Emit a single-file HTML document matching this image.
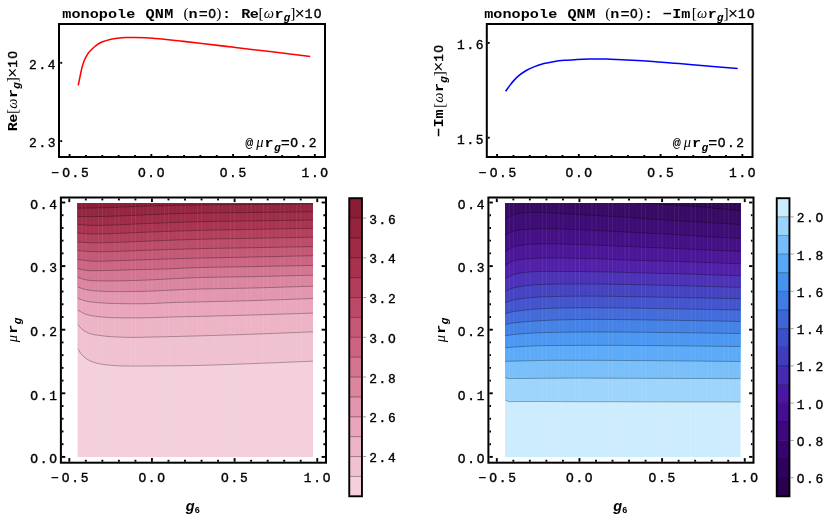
<!DOCTYPE html>
<html><head><meta charset="utf-8"><title>monopole QNM</title>
<style>
html,body{margin:0;padding:0;background:#fff;}
body{width:830px;height:523px;overflow:hidden;font-family:"Liberation Mono",monospace;}
svg{display:block;}
text{fill:#000;}
svg{will-change:transform;}
</style></head><body>
<svg width="830" height="523" viewBox="0 0 830 523">
<clipPath id="cpl"><rect x="77.60" y="202.90" width="235.40" height="254.00"/></clipPath>
<g clip-path="url(#cpl)" shape-rendering="geometricPrecision">
<rect x="76.60" y="201.90" width="237.40" height="256.00" fill="rgb(244,207,220)"/>
<path d="M75.60 200.90L75.60 348.40L77.50 348.40L80.50 353.23L83.50 356.54L86.50 358.87L89.50 360.60L92.50 361.89L95.50 362.85L98.50 363.55L101.50 364.12L104.50 364.59L107.50 364.95L110.50 365.24L113.50 365.47L116.50 365.67L119.50 365.84L122.50 365.95L125.50 366.02L128.50 366.06L131.50 366.09L134.50 366.11L137.50 366.11L140.50 366.08L143.50 366.05L146.50 366.02L149.50 365.99L152.50 365.97L155.50 365.95L158.50 365.92L161.50 365.90L164.50 365.87L167.50 365.85L170.50 365.82L173.50 365.78L176.50 365.75L179.50 365.73L182.50 365.70L185.50 365.66L188.50 365.62L191.50 365.57L194.50 365.51L197.50 365.44L200.50 365.37L203.50 365.29L206.50 365.20L209.50 365.11L212.50 365.02L215.50 364.93L218.50 364.83L221.50 364.73L224.50 364.62L227.50 364.52L230.50 364.41L233.50 364.30L236.50 364.19L239.50 364.08L242.50 363.97L245.50 363.86L248.50 363.75L251.50 363.64L254.50 363.53L257.50 363.42L260.50 363.31L263.50 363.20L266.50 363.08L269.50 362.96L272.50 362.84L275.50 362.72L278.50 362.60L281.50 362.48L284.50 362.36L287.50 362.24L290.50 362.11L293.50 361.99L296.50 361.87L299.50 361.75L302.50 361.62L305.50 361.50L308.50 361.38L311.50 361.26L313.00 361.20L315.00 361.20L315.00 200.90Z" fill="rgb(240,193,209)"/>
<path d="M75.60 200.90L75.60 324.50L77.50 324.50L80.50 327.72L83.50 330.36L86.50 332.18L89.50 333.46L92.50 334.32L95.50 334.90L98.50 335.32L101.50 335.71L104.50 336.09L107.50 336.38L110.50 336.61L113.50 336.80L116.50 336.97L119.50 337.12L122.50 337.24L125.50 337.32L128.50 337.37L131.50 337.39L134.50 337.40L137.50 337.36L140.50 337.30L143.50 337.22L146.50 337.14L149.50 337.08L152.50 337.02L155.50 336.96L158.50 336.90L161.50 336.83L164.50 336.77L167.50 336.70L170.50 336.64L173.50 336.56L176.50 336.49L179.50 336.42L182.50 336.34L185.50 336.26L188.50 336.18L191.50 336.10L194.50 336.01L197.50 335.93L200.50 335.84L203.50 335.76L206.50 335.67L209.50 335.58L212.50 335.49L215.50 335.40L218.50 335.31L221.50 335.22L224.50 335.13L227.50 335.04L230.50 334.94L233.50 334.85L236.50 334.75L239.50 334.65L242.50 334.55L245.50 334.45L248.50 334.35L251.50 334.24L254.50 334.14L257.50 334.03L260.50 333.91L263.50 333.80L266.50 333.69L269.50 333.57L272.50 333.45L275.50 333.33L278.50 333.21L281.50 333.09L284.50 332.96L287.50 332.84L290.50 332.72L293.50 332.59L296.50 332.47L299.50 332.35L302.50 332.22L305.50 332.10L308.50 331.98L311.50 331.86L313.00 331.80L315.00 331.80L315.00 200.90Z" fill="rgb(237,179,198)"/>
<path d="M75.60 200.90L75.60 310.00L77.50 310.00L80.50 311.65L83.50 313.27L86.50 314.46L89.50 315.27L92.50 315.85L95.50 316.27L98.50 316.60L101.50 316.91L104.50 317.19L107.50 317.41L110.50 317.56L113.50 317.68L116.50 317.76L119.50 317.81L122.50 317.86L125.50 317.91L128.50 317.94L131.50 317.94L134.50 317.93L137.50 317.90L140.50 317.85L143.50 317.79L146.50 317.74L149.50 317.68L152.50 317.61L155.50 317.52L158.50 317.43L161.50 317.33L164.50 317.23L167.50 317.13L170.50 317.04L173.50 316.96L176.50 316.89L179.50 316.83L182.50 316.77L185.50 316.70L188.50 316.64L191.50 316.58L194.50 316.51L197.50 316.44L200.50 316.37L203.50 316.30L206.50 316.22L209.50 316.15L212.50 316.07L215.50 316.00L218.50 315.92L221.50 315.85L224.50 315.77L227.50 315.69L230.50 315.61L233.50 315.53L236.50 315.45L239.50 315.37L242.50 315.29L245.50 315.20L248.50 315.12L251.50 315.03L254.50 314.95L257.50 314.86L260.50 314.77L263.50 314.68L266.50 314.59L269.50 314.49L272.50 314.40L275.50 314.31L278.50 314.21L281.50 314.11L284.50 314.02L287.50 313.92L290.50 313.82L293.50 313.73L296.50 313.63L299.50 313.53L302.50 313.44L305.50 313.34L308.50 313.24L311.50 313.15L313.00 313.10L315.00 313.10L315.00 200.90Z" fill="rgb(233,165,188)"/>
<path d="M75.60 200.90L75.60 298.20L77.50 298.20L80.50 299.30L83.50 300.38L86.50 301.18L89.50 301.73L92.50 302.14L95.50 302.44L98.50 302.68L101.50 302.91L104.50 303.11L107.50 303.28L110.50 303.40L113.50 303.49L116.50 303.56L119.50 303.62L122.50 303.66L125.50 303.71L128.50 303.74L131.50 303.76L134.50 303.77L137.50 303.76L140.50 303.73L143.50 303.69L146.50 303.64L149.50 303.57L152.50 303.47L155.50 303.35L158.50 303.21L161.50 303.07L164.50 302.92L167.50 302.78L170.50 302.65L173.50 302.55L176.50 302.46L179.50 302.38L182.50 302.30L185.50 302.23L188.50 302.16L191.50 302.09L194.50 302.01L197.50 301.94L200.50 301.86L203.50 301.79L206.50 301.72L209.50 301.66L212.50 301.59L215.50 301.52L218.50 301.45L221.50 301.38L224.50 301.32L227.50 301.25L230.50 301.18L233.50 301.11L236.50 301.03L239.50 300.96L242.50 300.88L245.50 300.80L248.50 300.72L251.50 300.64L254.50 300.55L257.50 300.45L260.50 300.36L263.50 300.26L266.50 300.16L269.50 300.06L272.50 299.96L275.50 299.85L278.50 299.75L281.50 299.64L284.50 299.53L287.50 299.42L290.50 299.31L293.50 299.20L296.50 299.09L299.50 298.98L302.50 298.87L305.50 298.77L308.50 298.66L311.50 298.55L313.00 298.50L315.00 298.50L315.00 200.90Z" fill="rgb(226,149,174)"/>
<path d="M75.60 200.90L75.60 286.90L77.50 286.90L80.50 287.97L83.50 289.01L86.50 289.77L89.50 290.27L92.50 290.61L95.50 290.85L98.50 291.04L101.50 291.21L104.50 291.36L107.50 291.47L110.50 291.54L113.50 291.58L116.50 291.60L119.50 291.60L122.50 291.60L125.50 291.60L128.50 291.59L131.50 291.57L134.50 291.53L137.50 291.48L140.50 291.42L143.50 291.34L146.50 291.26L149.50 291.16L152.50 291.05L155.50 290.91L158.50 290.77L161.50 290.62L164.50 290.46L167.50 290.31L170.50 290.17L173.50 290.04L176.50 289.91L179.50 289.78L182.50 289.65L185.50 289.53L188.50 289.42L191.50 289.31L194.50 289.22L197.50 289.13L200.50 289.05L203.50 288.97L206.50 288.90L209.50 288.84L212.50 288.77L215.50 288.72L218.50 288.66L221.50 288.61L224.50 288.56L227.50 288.50L230.50 288.45L233.50 288.40L236.50 288.34L239.50 288.29L242.50 288.23L245.50 288.17L248.50 288.10L251.50 288.03L254.50 287.95L257.50 287.88L260.50 287.79L263.50 287.71L266.50 287.63L269.50 287.54L272.50 287.45L275.50 287.36L278.50 287.27L281.50 287.18L284.50 287.08L287.50 286.99L290.50 286.90L293.50 286.80L296.50 286.71L299.50 286.61L302.50 286.52L305.50 286.43L308.50 286.34L311.50 286.24L313.00 286.20L315.00 286.20L315.00 200.90Z" fill="rgb(219,133,159)"/>
<path d="M75.60 200.90L75.60 277.20L77.50 277.20L80.50 278.24L83.50 279.25L86.50 279.95L89.50 280.36L92.50 280.61L95.50 280.75L98.50 280.83L101.50 280.90L104.50 280.97L107.50 280.99L110.50 280.98L113.50 280.94L116.50 280.89L119.50 280.82L122.50 280.75L125.50 280.69L128.50 280.63L131.50 280.56L134.50 280.48L137.50 280.39L140.50 280.29L143.50 280.19L146.50 280.08L149.50 279.95L152.50 279.82L155.50 279.67L158.50 279.51L161.50 279.35L164.50 279.19L167.50 279.03L170.50 278.88L173.50 278.72L176.50 278.56L179.50 278.41L182.50 278.25L185.50 278.10L188.50 277.96L191.50 277.83L194.50 277.72L197.50 277.62L200.50 277.53L203.50 277.45L206.50 277.38L209.50 277.31L212.50 277.25L215.50 277.20L218.50 277.14L221.50 277.10L224.50 277.05L227.50 277.01L230.50 276.96L233.50 276.92L236.50 276.88L239.50 276.83L242.50 276.79L245.50 276.74L248.50 276.68L251.50 276.62L254.50 276.56L257.50 276.50L260.50 276.43L263.50 276.36L266.50 276.30L269.50 276.23L272.50 276.16L275.50 276.09L278.50 276.02L281.50 275.95L284.50 275.88L287.50 275.80L290.50 275.73L293.50 275.66L296.50 275.59L299.50 275.52L302.50 275.45L305.50 275.38L308.50 275.31L311.50 275.23L313.00 275.20L315.00 275.20L315.00 200.90Z" fill="rgb(211,116,145)"/>
<path d="M75.60 200.90L75.60 268.50L77.50 268.50L80.50 269.23L83.50 269.94L86.50 270.39L89.50 270.61L92.50 270.69L95.50 270.68L98.50 270.63L101.50 270.60L104.50 270.58L107.50 270.53L110.50 270.47L113.50 270.39L116.50 270.30L119.50 270.21L122.50 270.11L125.50 270.01L128.50 269.92L131.50 269.83L134.50 269.75L137.50 269.68L140.50 269.61L143.50 269.54L146.50 269.48L149.50 269.41L152.50 269.33L155.50 269.26L158.50 269.17L161.50 269.08L164.50 268.99L167.50 268.88L170.50 268.75L173.50 268.62L176.50 268.48L179.50 268.34L182.50 268.20L185.50 268.06L188.50 267.94L191.50 267.82L194.50 267.72L197.50 267.63L200.50 267.54L203.50 267.47L206.50 267.40L209.50 267.33L212.50 267.27L215.50 267.21L218.50 267.16L221.50 267.11L224.50 267.06L227.50 267.01L230.50 266.97L233.50 266.92L236.50 266.87L239.50 266.83L242.50 266.78L245.50 266.73L248.50 266.68L251.50 266.62L254.50 266.56L257.50 266.51L260.50 266.45L263.50 266.39L266.50 266.33L269.50 266.27L272.50 266.21L275.50 266.15L278.50 266.09L281.50 266.03L284.50 265.97L287.50 265.91L290.50 265.85L293.50 265.79L296.50 265.73L299.50 265.67L302.50 265.61L305.50 265.55L308.50 265.49L311.50 265.43L313.00 265.40L315.00 265.40L315.00 200.90Z" fill="rgb(204,99,130)"/>
<path d="M75.60 200.90L75.60 259.50L77.50 259.50L80.50 259.85L83.50 260.23L86.50 260.60L89.50 260.92L92.50 261.15L95.50 261.27L98.50 261.30L101.50 261.26L104.50 261.18L107.50 261.07L110.50 260.94L113.50 260.82L116.50 260.71L119.50 260.63L122.50 260.53L125.50 260.43L128.50 260.32L131.50 260.21L134.50 260.10L137.50 259.99L140.50 259.88L143.50 259.77L146.50 259.66L149.50 259.56L152.50 259.47L155.50 259.37L158.50 259.27L161.50 259.18L164.50 259.08L167.50 258.99L170.50 258.90L173.50 258.80L176.50 258.71L179.50 258.63L182.50 258.54L185.50 258.45L188.50 258.37L191.50 258.29L194.50 258.21L197.50 258.14L200.50 258.06L203.50 258.00L206.50 257.93L209.50 257.86L212.50 257.80L215.50 257.74L218.50 257.68L221.50 257.62L224.50 257.56L227.50 257.50L230.50 257.44L233.50 257.38L236.50 257.32L239.50 257.27L242.50 257.21L245.50 257.15L248.50 257.09L251.50 257.03L254.50 256.96L257.50 256.90L260.50 256.83L263.50 256.77L266.50 256.71L269.50 256.64L272.50 256.58L275.50 256.51L278.50 256.45L281.50 256.38L284.50 256.32L287.50 256.25L290.50 256.19L293.50 256.12L296.50 256.06L299.50 255.99L302.50 255.93L305.50 255.86L308.50 255.80L311.50 255.73L313.00 255.70L315.00 255.70L315.00 200.90Z" fill="rgb(195,87,117)"/>
<path d="M75.60 200.90L75.60 250.60L77.50 250.60L80.50 250.82L83.50 251.07L86.50 251.31L89.50 251.52L92.50 251.67L95.50 251.74L98.50 251.77L101.50 251.76L104.50 251.72L107.50 251.66L110.50 251.58L113.50 251.50L116.50 251.41L119.50 251.33L122.50 251.23L125.50 251.13L128.50 251.01L131.50 250.88L134.50 250.76L137.50 250.63L140.50 250.50L143.50 250.38L146.50 250.27L149.50 250.16L152.50 250.06L155.50 249.96L158.50 249.86L161.50 249.76L164.50 249.67L167.50 249.57L170.50 249.48L173.50 249.39L176.50 249.30L179.50 249.21L182.50 249.13L185.50 249.05L188.50 248.97L191.50 248.89L194.50 248.81L197.50 248.74L200.50 248.67L203.50 248.60L206.50 248.54L209.50 248.48L212.50 248.42L215.50 248.36L218.50 248.30L221.50 248.25L224.50 248.20L227.50 248.14L230.50 248.09L233.50 248.04L236.50 247.99L239.50 247.94L242.50 247.88L245.50 247.83L248.50 247.78L251.50 247.72L254.50 247.67L257.50 247.61L260.50 247.56L263.50 247.50L266.50 247.44L269.50 247.39L272.50 247.34L275.50 247.28L278.50 247.23L281.50 247.17L284.50 247.12L287.50 247.06L290.50 247.01L293.50 246.95L296.50 246.90L299.50 246.85L302.50 246.79L305.50 246.74L308.50 246.68L311.50 246.63L313.00 246.60L315.00 246.60L315.00 200.90Z" fill="rgb(186,74,104)"/>
<path d="M75.60 200.90L75.60 242.00L77.50 242.00L80.50 242.17L83.50 242.35L86.50 242.53L89.50 242.68L92.50 242.78L95.50 242.82L98.50 242.81L101.50 242.77L104.50 242.70L107.50 242.61L110.50 242.51L113.50 242.41L116.50 242.32L119.50 242.22L122.50 242.12L125.50 242.01L128.50 241.90L131.50 241.78L134.50 241.66L137.50 241.53L140.50 241.41L143.50 241.29L146.50 241.17L149.50 241.06L152.50 240.94L155.50 240.83L158.50 240.71L161.50 240.59L164.50 240.47L167.50 240.36L170.50 240.24L173.50 240.13L176.50 240.01L179.50 239.90L182.50 239.80L185.50 239.69L188.50 239.59L191.50 239.50L194.50 239.41L197.50 239.33L200.50 239.26L203.50 239.18L206.50 239.12L209.50 239.05L212.50 238.99L215.50 238.93L218.50 238.88L221.50 238.82L224.50 238.77L227.50 238.72L230.50 238.67L233.50 238.63L236.50 238.58L239.50 238.53L242.50 238.48L245.50 238.43L248.50 238.38L251.50 238.32L254.50 238.27L257.50 238.21L260.50 238.16L263.50 238.10L266.50 238.04L269.50 237.99L272.50 237.94L275.50 237.88L278.50 237.83L281.50 237.77L284.50 237.72L287.50 237.66L290.50 237.61L293.50 237.55L296.50 237.50L299.50 237.45L302.50 237.39L305.50 237.34L308.50 237.28L311.50 237.23L313.00 237.20L315.00 237.20L315.00 200.90Z" fill="rgb(177,61,91)"/>
<path d="M75.60 200.90L75.60 233.20L77.50 233.20L80.50 233.37L83.50 233.55L86.50 233.73L89.50 233.88L92.50 233.98L95.50 234.01L98.50 234.00L101.50 233.94L104.50 233.86L107.50 233.76L110.50 233.64L113.50 233.53L116.50 233.42L119.50 233.31L122.50 233.20L125.50 233.08L128.50 232.95L131.50 232.82L134.50 232.69L137.50 232.55L140.50 232.42L143.50 232.30L146.50 232.17L149.50 232.06L152.50 231.94L155.50 231.83L158.50 231.72L161.50 231.61L164.50 231.50L167.50 231.39L170.50 231.28L173.50 231.17L176.50 231.07L179.50 230.97L182.50 230.87L185.50 230.77L188.50 230.68L191.50 230.60L194.50 230.51L197.50 230.43L200.50 230.36L203.50 230.29L206.50 230.22L209.50 230.16L212.50 230.10L215.50 230.04L218.50 229.99L221.50 229.93L224.50 229.88L227.50 229.83L230.50 229.78L233.50 229.73L236.50 229.68L239.50 229.63L242.50 229.58L245.50 229.53L248.50 229.48L251.50 229.42L254.50 229.37L257.50 229.31L260.50 229.26L263.50 229.20L266.50 229.14L269.50 229.09L272.50 229.04L275.50 228.98L278.50 228.93L281.50 228.87L284.50 228.82L287.50 228.76L290.50 228.71L293.50 228.65L296.50 228.60L299.50 228.55L302.50 228.49L305.50 228.44L308.50 228.38L311.50 228.33L313.00 228.30L315.00 228.30L315.00 200.90Z" fill="rgb(168,49,79)"/>
<path d="M75.60 200.90L75.60 224.40L77.50 224.40L80.50 224.61L83.50 224.84L86.50 225.06L89.50 225.25L92.50 225.38L95.50 225.42L98.50 225.42L101.50 225.36L104.50 225.28L107.50 225.17L110.50 225.05L113.50 224.93L116.50 224.82L119.50 224.71L122.50 224.60L125.50 224.48L128.50 224.35L131.50 224.22L134.50 224.09L137.50 223.96L140.50 223.83L143.50 223.70L146.50 223.58L149.50 223.46L152.50 223.34L155.50 223.22L158.50 223.10L161.50 222.98L164.50 222.86L167.50 222.74L170.50 222.62L173.50 222.51L176.50 222.39L179.50 222.28L182.50 222.18L185.50 222.08L188.50 221.98L191.50 221.90L194.50 221.81L197.50 221.74L200.50 221.67L203.50 221.60L206.50 221.54L209.50 221.49L212.50 221.44L215.50 221.39L218.50 221.35L221.50 221.30L224.50 221.26L227.50 221.23L230.50 221.19L233.50 221.15L236.50 221.12L239.50 221.08L242.50 221.04L245.50 221.00L248.50 220.96L251.50 220.92L254.50 220.87L257.50 220.83L260.50 220.78L263.50 220.74L266.50 220.69L269.50 220.65L272.50 220.60L275.50 220.56L278.50 220.51L281.50 220.47L284.50 220.42L287.50 220.38L290.50 220.33L293.50 220.29L296.50 220.25L299.50 220.20L302.50 220.16L305.50 220.11L308.50 220.07L311.50 220.02L313.00 220.00L315.00 220.00L315.00 200.90Z" fill="rgb(158,42,71)"/>
<path d="M75.60 200.90L75.60 216.50L77.50 216.50L80.50 216.51L83.50 216.52L86.50 216.54L89.50 216.55L92.50 216.56L95.50 216.56L98.50 216.54L101.50 216.50L104.50 216.44L107.50 216.36L110.50 216.27L113.50 216.16L116.50 216.05L119.50 215.93L122.50 215.81L125.50 215.69L128.50 215.57L131.50 215.45L134.50 215.33L137.50 215.21L140.50 215.08L143.50 214.95L146.50 214.82L149.50 214.69L152.50 214.56L155.50 214.43L158.50 214.31L161.50 214.19L164.50 214.09L167.50 213.98L170.50 213.88L173.50 213.78L176.50 213.69L179.50 213.59L182.50 213.51L185.50 213.43L188.50 213.35L191.50 213.28L194.50 213.21L197.50 213.15L200.50 213.09L203.50 213.04L206.50 213.00L209.50 212.95L212.50 212.91L215.50 212.88L218.50 212.84L221.50 212.81L224.50 212.78L227.50 212.75L230.50 212.72L233.50 212.69L236.50 212.67L239.50 212.64L242.50 212.61L245.50 212.58L248.50 212.55L251.50 212.51L254.50 212.48L257.50 212.44L260.50 212.41L263.50 212.37L266.50 212.34L269.50 212.30L272.50 212.27L275.50 212.23L278.50 212.20L281.50 212.16L284.50 212.13L287.50 212.09L290.50 212.06L293.50 212.03L296.50 211.99L299.50 211.96L302.50 211.92L305.50 211.89L308.50 211.85L311.50 211.82L313.00 211.80L315.00 211.80L315.00 200.90Z" fill="rgb(148,35,62)"/>
<path d="M75.60 200.90L75.60 208.20L77.50 208.20L80.50 208.15L83.50 208.11L86.50 208.07L89.50 208.03L92.50 207.99L95.50 207.93L98.50 207.87L101.50 207.80L104.50 207.71L107.50 207.61L110.50 207.49L113.50 207.38L116.50 207.25L119.50 207.13L122.50 207.00L125.50 206.88L128.50 206.76L131.50 206.64L134.50 206.54L137.50 206.43L140.50 206.33L143.50 206.23L146.50 206.13L149.50 206.03L152.50 205.93L155.50 205.84L158.50 205.75L161.50 205.67L164.50 205.59L167.50 205.52L170.50 205.45L173.50 205.38L176.50 205.32L179.50 205.27L182.50 205.22L185.50 205.17L188.50 205.12L191.50 205.08L194.50 205.04L197.50 205.00L200.50 204.96L203.50 204.93L206.50 204.90L209.50 204.87L212.50 204.84L215.50 204.81L218.50 204.78L221.50 204.76L224.50 204.73L227.50 204.71L230.50 204.68L233.50 204.66L236.50 204.63L239.50 204.61L242.50 204.59L245.50 204.56L248.50 204.54L251.50 204.51L254.50 204.48L257.50 204.46L260.50 204.43L263.50 204.41L266.50 204.38L269.50 204.36L272.50 204.33L275.50 204.31L278.50 204.28L281.50 204.26L284.50 204.23L287.50 204.21L290.50 204.18L293.50 204.16L296.50 204.13L299.50 204.11L302.50 204.09L305.50 204.06L308.50 204.04L311.50 204.01L313.00 204.00L315.00 204.00L315.00 200.90Z" fill="rgb(138,28,53)"/>
<rect x="77.60" y="202.90" width="235.40" height="254.00" fill="#fff" fill-opacity="0.015"/>
<line x1="69.40" y1="202.90" x2="69.40" y2="456.90" stroke="#fff" stroke-opacity="0.09" stroke-width="0.9"/>
<line x1="73.50" y1="202.90" x2="73.50" y2="456.90" stroke="#fff" stroke-opacity="0.04" stroke-width="0.9"/>
<line x1="77.60" y1="202.90" x2="77.60" y2="456.90" stroke="#fff" stroke-opacity="0.04" stroke-width="0.9"/>
<line x1="81.80" y1="202.90" x2="81.80" y2="456.90" stroke="#fff" stroke-opacity="0.09" stroke-width="0.9"/>
<line x1="85.93" y1="202.90" x2="85.93" y2="456.90" stroke="#fff" stroke-opacity="0.09" stroke-width="0.9"/>
<line x1="90.03" y1="202.90" x2="90.03" y2="456.90" stroke="#fff" stroke-opacity="0.04" stroke-width="0.9"/>
<line x1="94.13" y1="202.90" x2="94.13" y2="456.90" stroke="#fff" stroke-opacity="0.04" stroke-width="0.9"/>
<line x1="98.33" y1="202.90" x2="98.33" y2="456.90" stroke="#fff" stroke-opacity="0.09" stroke-width="0.9"/>
<line x1="102.46" y1="202.90" x2="102.46" y2="456.90" stroke="#fff" stroke-opacity="0.09" stroke-width="0.9"/>
<line x1="106.56" y1="202.90" x2="106.56" y2="456.90" stroke="#fff" stroke-opacity="0.04" stroke-width="0.9"/>
<line x1="110.66" y1="202.90" x2="110.66" y2="456.90" stroke="#fff" stroke-opacity="0.04" stroke-width="0.9"/>
<line x1="114.86" y1="202.90" x2="114.86" y2="456.90" stroke="#fff" stroke-opacity="0.09" stroke-width="0.9"/>
<line x1="118.99" y1="202.90" x2="118.99" y2="456.90" stroke="#fff" stroke-opacity="0.09" stroke-width="0.9"/>
<line x1="123.09" y1="202.90" x2="123.09" y2="456.90" stroke="#fff" stroke-opacity="0.04" stroke-width="0.9"/>
<line x1="127.19" y1="202.90" x2="127.19" y2="456.90" stroke="#fff" stroke-opacity="0.04" stroke-width="0.9"/>
<line x1="131.39" y1="202.90" x2="131.39" y2="456.90" stroke="#fff" stroke-opacity="0.09" stroke-width="0.9"/>
<line x1="135.52" y1="202.90" x2="135.52" y2="456.90" stroke="#fff" stroke-opacity="0.09" stroke-width="0.9"/>
<line x1="139.62" y1="202.90" x2="139.62" y2="456.90" stroke="#fff" stroke-opacity="0.04" stroke-width="0.9"/>
<line x1="143.72" y1="202.90" x2="143.72" y2="456.90" stroke="#fff" stroke-opacity="0.04" stroke-width="0.9"/>
<line x1="147.92" y1="202.90" x2="147.92" y2="456.90" stroke="#fff" stroke-opacity="0.09" stroke-width="0.9"/>
<line x1="152.05" y1="202.90" x2="152.05" y2="456.90" stroke="#fff" stroke-opacity="0.09" stroke-width="0.9"/>
<line x1="156.15" y1="202.90" x2="156.15" y2="456.90" stroke="#fff" stroke-opacity="0.04" stroke-width="0.9"/>
<line x1="160.25" y1="202.90" x2="160.25" y2="456.90" stroke="#fff" stroke-opacity="0.04" stroke-width="0.9"/>
<line x1="164.45" y1="202.90" x2="164.45" y2="456.90" stroke="#fff" stroke-opacity="0.09" stroke-width="0.9"/>
<line x1="168.58" y1="202.90" x2="168.58" y2="456.90" stroke="#fff" stroke-opacity="0.09" stroke-width="0.9"/>
<line x1="172.68" y1="202.90" x2="172.68" y2="456.90" stroke="#fff" stroke-opacity="0.04" stroke-width="0.9"/>
<line x1="176.78" y1="202.90" x2="176.78" y2="456.90" stroke="#fff" stroke-opacity="0.04" stroke-width="0.9"/>
<line x1="180.98" y1="202.90" x2="180.98" y2="456.90" stroke="#fff" stroke-opacity="0.09" stroke-width="0.9"/>
<line x1="185.11" y1="202.90" x2="185.11" y2="456.90" stroke="#fff" stroke-opacity="0.09" stroke-width="0.9"/>
<line x1="189.21" y1="202.90" x2="189.21" y2="456.90" stroke="#fff" stroke-opacity="0.04" stroke-width="0.9"/>
<line x1="193.31" y1="202.90" x2="193.31" y2="456.90" stroke="#fff" stroke-opacity="0.04" stroke-width="0.9"/>
<line x1="197.51" y1="202.90" x2="197.51" y2="456.90" stroke="#fff" stroke-opacity="0.09" stroke-width="0.9"/>
<line x1="201.64" y1="202.90" x2="201.64" y2="456.90" stroke="#fff" stroke-opacity="0.09" stroke-width="0.9"/>
<line x1="205.74" y1="202.90" x2="205.74" y2="456.90" stroke="#fff" stroke-opacity="0.04" stroke-width="0.9"/>
<line x1="209.84" y1="202.90" x2="209.84" y2="456.90" stroke="#fff" stroke-opacity="0.04" stroke-width="0.9"/>
<line x1="214.04" y1="202.90" x2="214.04" y2="456.90" stroke="#fff" stroke-opacity="0.09" stroke-width="0.9"/>
<line x1="218.17" y1="202.90" x2="218.17" y2="456.90" stroke="#fff" stroke-opacity="0.09" stroke-width="0.9"/>
<line x1="222.27" y1="202.90" x2="222.27" y2="456.90" stroke="#fff" stroke-opacity="0.04" stroke-width="0.9"/>
<line x1="226.37" y1="202.90" x2="226.37" y2="456.90" stroke="#fff" stroke-opacity="0.04" stroke-width="0.9"/>
<line x1="230.57" y1="202.90" x2="230.57" y2="456.90" stroke="#fff" stroke-opacity="0.09" stroke-width="0.9"/>
<line x1="234.70" y1="202.90" x2="234.70" y2="456.90" stroke="#fff" stroke-opacity="0.09" stroke-width="0.9"/>
<line x1="238.80" y1="202.90" x2="238.80" y2="456.90" stroke="#fff" stroke-opacity="0.04" stroke-width="0.9"/>
<line x1="242.90" y1="202.90" x2="242.90" y2="456.90" stroke="#fff" stroke-opacity="0.04" stroke-width="0.9"/>
<line x1="247.10" y1="202.90" x2="247.10" y2="456.90" stroke="#fff" stroke-opacity="0.09" stroke-width="0.9"/>
<line x1="251.23" y1="202.90" x2="251.23" y2="456.90" stroke="#fff" stroke-opacity="0.09" stroke-width="0.9"/>
<line x1="255.33" y1="202.90" x2="255.33" y2="456.90" stroke="#fff" stroke-opacity="0.04" stroke-width="0.9"/>
<line x1="259.43" y1="202.90" x2="259.43" y2="456.90" stroke="#fff" stroke-opacity="0.04" stroke-width="0.9"/>
<line x1="263.63" y1="202.90" x2="263.63" y2="456.90" stroke="#fff" stroke-opacity="0.09" stroke-width="0.9"/>
<line x1="267.76" y1="202.90" x2="267.76" y2="456.90" stroke="#fff" stroke-opacity="0.09" stroke-width="0.9"/>
<line x1="271.86" y1="202.90" x2="271.86" y2="456.90" stroke="#fff" stroke-opacity="0.04" stroke-width="0.9"/>
<line x1="275.96" y1="202.90" x2="275.96" y2="456.90" stroke="#fff" stroke-opacity="0.04" stroke-width="0.9"/>
<line x1="280.16" y1="202.90" x2="280.16" y2="456.90" stroke="#fff" stroke-opacity="0.09" stroke-width="0.9"/>
<line x1="284.29" y1="202.90" x2="284.29" y2="456.90" stroke="#fff" stroke-opacity="0.09" stroke-width="0.9"/>
<line x1="288.39" y1="202.90" x2="288.39" y2="456.90" stroke="#fff" stroke-opacity="0.04" stroke-width="0.9"/>
<line x1="292.49" y1="202.90" x2="292.49" y2="456.90" stroke="#fff" stroke-opacity="0.04" stroke-width="0.9"/>
<line x1="296.69" y1="202.90" x2="296.69" y2="456.90" stroke="#fff" stroke-opacity="0.09" stroke-width="0.9"/>
<line x1="300.82" y1="202.90" x2="300.82" y2="456.90" stroke="#fff" stroke-opacity="0.09" stroke-width="0.9"/>
<line x1="304.92" y1="202.90" x2="304.92" y2="456.90" stroke="#fff" stroke-opacity="0.04" stroke-width="0.9"/>
<line x1="309.02" y1="202.90" x2="309.02" y2="456.90" stroke="#fff" stroke-opacity="0.04" stroke-width="0.9"/>
<line x1="313.22" y1="202.90" x2="313.22" y2="456.90" stroke="#fff" stroke-opacity="0.09" stroke-width="0.9"/>
<line x1="317.35" y1="202.90" x2="317.35" y2="456.90" stroke="#fff" stroke-opacity="0.09" stroke-width="0.9"/>
<line x1="321.45" y1="202.90" x2="321.45" y2="456.90" stroke="#fff" stroke-opacity="0.04" stroke-width="0.9"/>
<line x1="325.55" y1="202.90" x2="325.55" y2="456.90" stroke="#fff" stroke-opacity="0.04" stroke-width="0.9"/>
<line x1="329.75" y1="202.90" x2="329.75" y2="456.90" stroke="#fff" stroke-opacity="0.09" stroke-width="0.9"/>
<path d="M77.50 348.40L80.50 353.23L83.50 356.54L86.50 358.87L89.50 360.60L92.50 361.89L95.50 362.85L98.50 363.55L101.50 364.12L104.50 364.59L107.50 364.95L110.50 365.24L113.50 365.47L116.50 365.67L119.50 365.84L122.50 365.95L125.50 366.02L128.50 366.06L131.50 366.09L134.50 366.11L137.50 366.11L140.50 366.08L143.50 366.05L146.50 366.02L149.50 365.99L152.50 365.97L155.50 365.95L158.50 365.92L161.50 365.90L164.50 365.87L167.50 365.85L170.50 365.82L173.50 365.78L176.50 365.75L179.50 365.73L182.50 365.70L185.50 365.66L188.50 365.62L191.50 365.57L194.50 365.51L197.50 365.44L200.50 365.37L203.50 365.29L206.50 365.20L209.50 365.11L212.50 365.02L215.50 364.93L218.50 364.83L221.50 364.73L224.50 364.62L227.50 364.52L230.50 364.41L233.50 364.30L236.50 364.19L239.50 364.08L242.50 363.97L245.50 363.86L248.50 363.75L251.50 363.64L254.50 363.53L257.50 363.42L260.50 363.31L263.50 363.20L266.50 363.08L269.50 362.96L272.50 362.84L275.50 362.72L278.50 362.60L281.50 362.48L284.50 362.36L287.50 362.24L290.50 362.11L293.50 361.99L296.50 361.87L299.50 361.75L302.50 361.62L305.50 361.50L308.50 361.38L311.50 361.26L313.00 361.20" fill="none" stroke="#000" stroke-opacity="0.5" stroke-width="0.6"/>
<path d="M77.50 324.50L80.50 327.72L83.50 330.36L86.50 332.18L89.50 333.46L92.50 334.32L95.50 334.90L98.50 335.32L101.50 335.71L104.50 336.09L107.50 336.38L110.50 336.61L113.50 336.80L116.50 336.97L119.50 337.12L122.50 337.24L125.50 337.32L128.50 337.37L131.50 337.39L134.50 337.40L137.50 337.36L140.50 337.30L143.50 337.22L146.50 337.14L149.50 337.08L152.50 337.02L155.50 336.96L158.50 336.90L161.50 336.83L164.50 336.77L167.50 336.70L170.50 336.64L173.50 336.56L176.50 336.49L179.50 336.42L182.50 336.34L185.50 336.26L188.50 336.18L191.50 336.10L194.50 336.01L197.50 335.93L200.50 335.84L203.50 335.76L206.50 335.67L209.50 335.58L212.50 335.49L215.50 335.40L218.50 335.31L221.50 335.22L224.50 335.13L227.50 335.04L230.50 334.94L233.50 334.85L236.50 334.75L239.50 334.65L242.50 334.55L245.50 334.45L248.50 334.35L251.50 334.24L254.50 334.14L257.50 334.03L260.50 333.91L263.50 333.80L266.50 333.69L269.50 333.57L272.50 333.45L275.50 333.33L278.50 333.21L281.50 333.09L284.50 332.96L287.50 332.84L290.50 332.72L293.50 332.59L296.50 332.47L299.50 332.35L302.50 332.22L305.50 332.10L308.50 331.98L311.50 331.86L313.00 331.80" fill="none" stroke="#000" stroke-opacity="0.5" stroke-width="0.6"/>
<path d="M77.50 310.00L80.50 311.65L83.50 313.27L86.50 314.46L89.50 315.27L92.50 315.85L95.50 316.27L98.50 316.60L101.50 316.91L104.50 317.19L107.50 317.41L110.50 317.56L113.50 317.68L116.50 317.76L119.50 317.81L122.50 317.86L125.50 317.91L128.50 317.94L131.50 317.94L134.50 317.93L137.50 317.90L140.50 317.85L143.50 317.79L146.50 317.74L149.50 317.68L152.50 317.61L155.50 317.52L158.50 317.43L161.50 317.33L164.50 317.23L167.50 317.13L170.50 317.04L173.50 316.96L176.50 316.89L179.50 316.83L182.50 316.77L185.50 316.70L188.50 316.64L191.50 316.58L194.50 316.51L197.50 316.44L200.50 316.37L203.50 316.30L206.50 316.22L209.50 316.15L212.50 316.07L215.50 316.00L218.50 315.92L221.50 315.85L224.50 315.77L227.50 315.69L230.50 315.61L233.50 315.53L236.50 315.45L239.50 315.37L242.50 315.29L245.50 315.20L248.50 315.12L251.50 315.03L254.50 314.95L257.50 314.86L260.50 314.77L263.50 314.68L266.50 314.59L269.50 314.49L272.50 314.40L275.50 314.31L278.50 314.21L281.50 314.11L284.50 314.02L287.50 313.92L290.50 313.82L293.50 313.73L296.50 313.63L299.50 313.53L302.50 313.44L305.50 313.34L308.50 313.24L311.50 313.15L313.00 313.10" fill="none" stroke="#000" stroke-opacity="0.5" stroke-width="0.6"/>
<path d="M77.50 298.20L80.50 299.30L83.50 300.38L86.50 301.18L89.50 301.73L92.50 302.14L95.50 302.44L98.50 302.68L101.50 302.91L104.50 303.11L107.50 303.28L110.50 303.40L113.50 303.49L116.50 303.56L119.50 303.62L122.50 303.66L125.50 303.71L128.50 303.74L131.50 303.76L134.50 303.77L137.50 303.76L140.50 303.73L143.50 303.69L146.50 303.64L149.50 303.57L152.50 303.47L155.50 303.35L158.50 303.21L161.50 303.07L164.50 302.92L167.50 302.78L170.50 302.65L173.50 302.55L176.50 302.46L179.50 302.38L182.50 302.30L185.50 302.23L188.50 302.16L191.50 302.09L194.50 302.01L197.50 301.94L200.50 301.86L203.50 301.79L206.50 301.72L209.50 301.66L212.50 301.59L215.50 301.52L218.50 301.45L221.50 301.38L224.50 301.32L227.50 301.25L230.50 301.18L233.50 301.11L236.50 301.03L239.50 300.96L242.50 300.88L245.50 300.80L248.50 300.72L251.50 300.64L254.50 300.55L257.50 300.45L260.50 300.36L263.50 300.26L266.50 300.16L269.50 300.06L272.50 299.96L275.50 299.85L278.50 299.75L281.50 299.64L284.50 299.53L287.50 299.42L290.50 299.31L293.50 299.20L296.50 299.09L299.50 298.98L302.50 298.87L305.50 298.77L308.50 298.66L311.50 298.55L313.00 298.50" fill="none" stroke="#000" stroke-opacity="0.5" stroke-width="0.6"/>
<path d="M77.50 286.90L80.50 287.97L83.50 289.01L86.50 289.77L89.50 290.27L92.50 290.61L95.50 290.85L98.50 291.04L101.50 291.21L104.50 291.36L107.50 291.47L110.50 291.54L113.50 291.58L116.50 291.60L119.50 291.60L122.50 291.60L125.50 291.60L128.50 291.59L131.50 291.57L134.50 291.53L137.50 291.48L140.50 291.42L143.50 291.34L146.50 291.26L149.50 291.16L152.50 291.05L155.50 290.91L158.50 290.77L161.50 290.62L164.50 290.46L167.50 290.31L170.50 290.17L173.50 290.04L176.50 289.91L179.50 289.78L182.50 289.65L185.50 289.53L188.50 289.42L191.50 289.31L194.50 289.22L197.50 289.13L200.50 289.05L203.50 288.97L206.50 288.90L209.50 288.84L212.50 288.77L215.50 288.72L218.50 288.66L221.50 288.61L224.50 288.56L227.50 288.50L230.50 288.45L233.50 288.40L236.50 288.34L239.50 288.29L242.50 288.23L245.50 288.17L248.50 288.10L251.50 288.03L254.50 287.95L257.50 287.88L260.50 287.79L263.50 287.71L266.50 287.63L269.50 287.54L272.50 287.45L275.50 287.36L278.50 287.27L281.50 287.18L284.50 287.08L287.50 286.99L290.50 286.90L293.50 286.80L296.50 286.71L299.50 286.61L302.50 286.52L305.50 286.43L308.50 286.34L311.50 286.24L313.00 286.20" fill="none" stroke="#000" stroke-opacity="0.5" stroke-width="0.6"/>
<path d="M77.50 277.20L80.50 278.24L83.50 279.25L86.50 279.95L89.50 280.36L92.50 280.61L95.50 280.75L98.50 280.83L101.50 280.90L104.50 280.97L107.50 280.99L110.50 280.98L113.50 280.94L116.50 280.89L119.50 280.82L122.50 280.75L125.50 280.69L128.50 280.63L131.50 280.56L134.50 280.48L137.50 280.39L140.50 280.29L143.50 280.19L146.50 280.08L149.50 279.95L152.50 279.82L155.50 279.67L158.50 279.51L161.50 279.35L164.50 279.19L167.50 279.03L170.50 278.88L173.50 278.72L176.50 278.56L179.50 278.41L182.50 278.25L185.50 278.10L188.50 277.96L191.50 277.83L194.50 277.72L197.50 277.62L200.50 277.53L203.50 277.45L206.50 277.38L209.50 277.31L212.50 277.25L215.50 277.20L218.50 277.14L221.50 277.10L224.50 277.05L227.50 277.01L230.50 276.96L233.50 276.92L236.50 276.88L239.50 276.83L242.50 276.79L245.50 276.74L248.50 276.68L251.50 276.62L254.50 276.56L257.50 276.50L260.50 276.43L263.50 276.36L266.50 276.30L269.50 276.23L272.50 276.16L275.50 276.09L278.50 276.02L281.50 275.95L284.50 275.88L287.50 275.80L290.50 275.73L293.50 275.66L296.50 275.59L299.50 275.52L302.50 275.45L305.50 275.38L308.50 275.31L311.50 275.23L313.00 275.20" fill="none" stroke="#000" stroke-opacity="0.5" stroke-width="0.6"/>
<path d="M77.50 268.50L80.50 269.23L83.50 269.94L86.50 270.39L89.50 270.61L92.50 270.69L95.50 270.68L98.50 270.63L101.50 270.60L104.50 270.58L107.50 270.53L110.50 270.47L113.50 270.39L116.50 270.30L119.50 270.21L122.50 270.11L125.50 270.01L128.50 269.92L131.50 269.83L134.50 269.75L137.50 269.68L140.50 269.61L143.50 269.54L146.50 269.48L149.50 269.41L152.50 269.33L155.50 269.26L158.50 269.17L161.50 269.08L164.50 268.99L167.50 268.88L170.50 268.75L173.50 268.62L176.50 268.48L179.50 268.34L182.50 268.20L185.50 268.06L188.50 267.94L191.50 267.82L194.50 267.72L197.50 267.63L200.50 267.54L203.50 267.47L206.50 267.40L209.50 267.33L212.50 267.27L215.50 267.21L218.50 267.16L221.50 267.11L224.50 267.06L227.50 267.01L230.50 266.97L233.50 266.92L236.50 266.87L239.50 266.83L242.50 266.78L245.50 266.73L248.50 266.68L251.50 266.62L254.50 266.56L257.50 266.51L260.50 266.45L263.50 266.39L266.50 266.33L269.50 266.27L272.50 266.21L275.50 266.15L278.50 266.09L281.50 266.03L284.50 265.97L287.50 265.91L290.50 265.85L293.50 265.79L296.50 265.73L299.50 265.67L302.50 265.61L305.50 265.55L308.50 265.49L311.50 265.43L313.00 265.40" fill="none" stroke="#000" stroke-opacity="0.5" stroke-width="0.6"/>
<path d="M77.50 259.50L80.50 259.85L83.50 260.23L86.50 260.60L89.50 260.92L92.50 261.15L95.50 261.27L98.50 261.30L101.50 261.26L104.50 261.18L107.50 261.07L110.50 260.94L113.50 260.82L116.50 260.71L119.50 260.63L122.50 260.53L125.50 260.43L128.50 260.32L131.50 260.21L134.50 260.10L137.50 259.99L140.50 259.88L143.50 259.77L146.50 259.66L149.50 259.56L152.50 259.47L155.50 259.37L158.50 259.27L161.50 259.18L164.50 259.08L167.50 258.99L170.50 258.90L173.50 258.80L176.50 258.71L179.50 258.63L182.50 258.54L185.50 258.45L188.50 258.37L191.50 258.29L194.50 258.21L197.50 258.14L200.50 258.06L203.50 258.00L206.50 257.93L209.50 257.86L212.50 257.80L215.50 257.74L218.50 257.68L221.50 257.62L224.50 257.56L227.50 257.50L230.50 257.44L233.50 257.38L236.50 257.32L239.50 257.27L242.50 257.21L245.50 257.15L248.50 257.09L251.50 257.03L254.50 256.96L257.50 256.90L260.50 256.83L263.50 256.77L266.50 256.71L269.50 256.64L272.50 256.58L275.50 256.51L278.50 256.45L281.50 256.38L284.50 256.32L287.50 256.25L290.50 256.19L293.50 256.12L296.50 256.06L299.50 255.99L302.50 255.93L305.50 255.86L308.50 255.80L311.50 255.73L313.00 255.70" fill="none" stroke="#000" stroke-opacity="0.5" stroke-width="0.6"/>
<path d="M77.50 250.60L80.50 250.82L83.50 251.07L86.50 251.31L89.50 251.52L92.50 251.67L95.50 251.74L98.50 251.77L101.50 251.76L104.50 251.72L107.50 251.66L110.50 251.58L113.50 251.50L116.50 251.41L119.50 251.33L122.50 251.23L125.50 251.13L128.50 251.01L131.50 250.88L134.50 250.76L137.50 250.63L140.50 250.50L143.50 250.38L146.50 250.27L149.50 250.16L152.50 250.06L155.50 249.96L158.50 249.86L161.50 249.76L164.50 249.67L167.50 249.57L170.50 249.48L173.50 249.39L176.50 249.30L179.50 249.21L182.50 249.13L185.50 249.05L188.50 248.97L191.50 248.89L194.50 248.81L197.50 248.74L200.50 248.67L203.50 248.60L206.50 248.54L209.50 248.48L212.50 248.42L215.50 248.36L218.50 248.30L221.50 248.25L224.50 248.20L227.50 248.14L230.50 248.09L233.50 248.04L236.50 247.99L239.50 247.94L242.50 247.88L245.50 247.83L248.50 247.78L251.50 247.72L254.50 247.67L257.50 247.61L260.50 247.56L263.50 247.50L266.50 247.44L269.50 247.39L272.50 247.34L275.50 247.28L278.50 247.23L281.50 247.17L284.50 247.12L287.50 247.06L290.50 247.01L293.50 246.95L296.50 246.90L299.50 246.85L302.50 246.79L305.50 246.74L308.50 246.68L311.50 246.63L313.00 246.60" fill="none" stroke="#000" stroke-opacity="0.5" stroke-width="0.6"/>
<path d="M77.50 242.00L80.50 242.17L83.50 242.35L86.50 242.53L89.50 242.68L92.50 242.78L95.50 242.82L98.50 242.81L101.50 242.77L104.50 242.70L107.50 242.61L110.50 242.51L113.50 242.41L116.50 242.32L119.50 242.22L122.50 242.12L125.50 242.01L128.50 241.90L131.50 241.78L134.50 241.66L137.50 241.53L140.50 241.41L143.50 241.29L146.50 241.17L149.50 241.06L152.50 240.94L155.50 240.83L158.50 240.71L161.50 240.59L164.50 240.47L167.50 240.36L170.50 240.24L173.50 240.13L176.50 240.01L179.50 239.90L182.50 239.80L185.50 239.69L188.50 239.59L191.50 239.50L194.50 239.41L197.50 239.33L200.50 239.26L203.50 239.18L206.50 239.12L209.50 239.05L212.50 238.99L215.50 238.93L218.50 238.88L221.50 238.82L224.50 238.77L227.50 238.72L230.50 238.67L233.50 238.63L236.50 238.58L239.50 238.53L242.50 238.48L245.50 238.43L248.50 238.38L251.50 238.32L254.50 238.27L257.50 238.21L260.50 238.16L263.50 238.10L266.50 238.04L269.50 237.99L272.50 237.94L275.50 237.88L278.50 237.83L281.50 237.77L284.50 237.72L287.50 237.66L290.50 237.61L293.50 237.55L296.50 237.50L299.50 237.45L302.50 237.39L305.50 237.34L308.50 237.28L311.50 237.23L313.00 237.20" fill="none" stroke="#000" stroke-opacity="0.5" stroke-width="0.6"/>
<path d="M77.50 233.20L80.50 233.37L83.50 233.55L86.50 233.73L89.50 233.88L92.50 233.98L95.50 234.01L98.50 234.00L101.50 233.94L104.50 233.86L107.50 233.76L110.50 233.64L113.50 233.53L116.50 233.42L119.50 233.31L122.50 233.20L125.50 233.08L128.50 232.95L131.50 232.82L134.50 232.69L137.50 232.55L140.50 232.42L143.50 232.30L146.50 232.17L149.50 232.06L152.50 231.94L155.50 231.83L158.50 231.72L161.50 231.61L164.50 231.50L167.50 231.39L170.50 231.28L173.50 231.17L176.50 231.07L179.50 230.97L182.50 230.87L185.50 230.77L188.50 230.68L191.50 230.60L194.50 230.51L197.50 230.43L200.50 230.36L203.50 230.29L206.50 230.22L209.50 230.16L212.50 230.10L215.50 230.04L218.50 229.99L221.50 229.93L224.50 229.88L227.50 229.83L230.50 229.78L233.50 229.73L236.50 229.68L239.50 229.63L242.50 229.58L245.50 229.53L248.50 229.48L251.50 229.42L254.50 229.37L257.50 229.31L260.50 229.26L263.50 229.20L266.50 229.14L269.50 229.09L272.50 229.04L275.50 228.98L278.50 228.93L281.50 228.87L284.50 228.82L287.50 228.76L290.50 228.71L293.50 228.65L296.50 228.60L299.50 228.55L302.50 228.49L305.50 228.44L308.50 228.38L311.50 228.33L313.00 228.30" fill="none" stroke="#000" stroke-opacity="0.5" stroke-width="0.6"/>
<path d="M77.50 224.40L80.50 224.61L83.50 224.84L86.50 225.06L89.50 225.25L92.50 225.38L95.50 225.42L98.50 225.42L101.50 225.36L104.50 225.28L107.50 225.17L110.50 225.05L113.50 224.93L116.50 224.82L119.50 224.71L122.50 224.60L125.50 224.48L128.50 224.35L131.50 224.22L134.50 224.09L137.50 223.96L140.50 223.83L143.50 223.70L146.50 223.58L149.50 223.46L152.50 223.34L155.50 223.22L158.50 223.10L161.50 222.98L164.50 222.86L167.50 222.74L170.50 222.62L173.50 222.51L176.50 222.39L179.50 222.28L182.50 222.18L185.50 222.08L188.50 221.98L191.50 221.90L194.50 221.81L197.50 221.74L200.50 221.67L203.50 221.60L206.50 221.54L209.50 221.49L212.50 221.44L215.50 221.39L218.50 221.35L221.50 221.30L224.50 221.26L227.50 221.23L230.50 221.19L233.50 221.15L236.50 221.12L239.50 221.08L242.50 221.04L245.50 221.00L248.50 220.96L251.50 220.92L254.50 220.87L257.50 220.83L260.50 220.78L263.50 220.74L266.50 220.69L269.50 220.65L272.50 220.60L275.50 220.56L278.50 220.51L281.50 220.47L284.50 220.42L287.50 220.38L290.50 220.33L293.50 220.29L296.50 220.25L299.50 220.20L302.50 220.16L305.50 220.11L308.50 220.07L311.50 220.02L313.00 220.00" fill="none" stroke="#000" stroke-opacity="0.5" stroke-width="0.6"/>
<path d="M77.50 216.50L80.50 216.51L83.50 216.52L86.50 216.54L89.50 216.55L92.50 216.56L95.50 216.56L98.50 216.54L101.50 216.50L104.50 216.44L107.50 216.36L110.50 216.27L113.50 216.16L116.50 216.05L119.50 215.93L122.50 215.81L125.50 215.69L128.50 215.57L131.50 215.45L134.50 215.33L137.50 215.21L140.50 215.08L143.50 214.95L146.50 214.82L149.50 214.69L152.50 214.56L155.50 214.43L158.50 214.31L161.50 214.19L164.50 214.09L167.50 213.98L170.50 213.88L173.50 213.78L176.50 213.69L179.50 213.59L182.50 213.51L185.50 213.43L188.50 213.35L191.50 213.28L194.50 213.21L197.50 213.15L200.50 213.09L203.50 213.04L206.50 213.00L209.50 212.95L212.50 212.91L215.50 212.88L218.50 212.84L221.50 212.81L224.50 212.78L227.50 212.75L230.50 212.72L233.50 212.69L236.50 212.67L239.50 212.64L242.50 212.61L245.50 212.58L248.50 212.55L251.50 212.51L254.50 212.48L257.50 212.44L260.50 212.41L263.50 212.37L266.50 212.34L269.50 212.30L272.50 212.27L275.50 212.23L278.50 212.20L281.50 212.16L284.50 212.13L287.50 212.09L290.50 212.06L293.50 212.03L296.50 211.99L299.50 211.96L302.50 211.92L305.50 211.89L308.50 211.85L311.50 211.82L313.00 211.80" fill="none" stroke="#000" stroke-opacity="0.5" stroke-width="0.6"/>
<path d="M77.50 208.20L80.50 208.15L83.50 208.11L86.50 208.07L89.50 208.03L92.50 207.99L95.50 207.93L98.50 207.87L101.50 207.80L104.50 207.71L107.50 207.61L110.50 207.49L113.50 207.38L116.50 207.25L119.50 207.13L122.50 207.00L125.50 206.88L128.50 206.76L131.50 206.64L134.50 206.54L137.50 206.43L140.50 206.33L143.50 206.23L146.50 206.13L149.50 206.03L152.50 205.93L155.50 205.84L158.50 205.75L161.50 205.67L164.50 205.59L167.50 205.52L170.50 205.45L173.50 205.38L176.50 205.32L179.50 205.27L182.50 205.22L185.50 205.17L188.50 205.12L191.50 205.08L194.50 205.04L197.50 205.00L200.50 204.96L203.50 204.93L206.50 204.90L209.50 204.87L212.50 204.84L215.50 204.81L218.50 204.78L221.50 204.76L224.50 204.73L227.50 204.71L230.50 204.68L233.50 204.66L236.50 204.63L239.50 204.61L242.50 204.59L245.50 204.56L248.50 204.54L251.50 204.51L254.50 204.48L257.50 204.46L260.50 204.43L263.50 204.41L266.50 204.38L269.50 204.36L272.50 204.33L275.50 204.31L278.50 204.28L281.50 204.26L284.50 204.23L287.50 204.21L290.50 204.18L293.50 204.16L296.50 204.13L299.50 204.11L302.50 204.09L305.50 204.06L308.50 204.04L311.50 204.01L313.00 204.00" fill="none" stroke="#000" stroke-opacity="0.5" stroke-width="0.6"/>
</g>
<clipPath id="cpr"><rect x="505.10" y="202.90" width="235.40" height="254.00"/></clipPath>
<g clip-path="url(#cpr)" shape-rendering="geometricPrecision">
<rect x="504.10" y="201.90" width="237.40" height="256.00" fill="rgb(203,237,254)"/>
<path d="M503.10 200.90L503.10 400.00L505.20 400.00L508.20 401.45L511.20 401.72L514.20 401.55L517.20 401.51L520.20 401.52L523.20 401.52L526.20 401.52L529.20 401.51L532.20 401.51L535.20 401.50L538.20 401.49L541.20 401.49L544.20 401.50L547.20 401.51L550.20 401.53L553.20 401.55L556.20 401.57L559.20 401.59L562.20 401.62L565.20 401.64L568.20 401.66L571.20 401.68L574.20 401.69L577.20 401.71L580.20 401.72L583.20 401.73L586.20 401.74L589.20 401.74L592.20 401.75L595.20 401.76L598.20 401.76L601.20 401.76L604.20 401.77L607.20 401.77L610.20 401.78L613.20 401.78L616.20 401.78L619.20 401.79L622.20 401.79L625.20 401.80L628.20 401.80L631.20 401.81L634.20 401.81L637.20 401.82L640.20 401.82L643.20 401.83L646.20 401.83L649.20 401.84L652.20 401.85L655.20 401.85L658.20 401.86L661.20 401.86L664.20 401.87L667.20 401.87L670.20 401.88L673.20 401.88L676.20 401.89L679.20 401.89L682.20 401.90L685.20 401.90L688.20 401.91L691.20 401.91L694.20 401.92L697.20 401.92L700.20 401.93L703.20 401.93L706.20 401.94L709.20 401.94L712.20 401.95L715.20 401.96L718.20 401.96L721.20 401.97L724.20 401.97L727.20 401.98L730.20 401.98L733.20 401.99L736.20 401.99L739.20 402.00L740.90 402.00L742.50 402.00L742.50 200.90Z" fill="rgb(154,212,252)"/>
<path d="M503.10 200.90L503.10 377.50L505.20 377.50L508.20 378.47L511.20 378.62L514.20 378.52L517.20 378.51L520.20 378.52L523.20 378.51L526.20 378.49L529.20 378.46L532.20 378.43L535.20 378.39L538.20 378.35L541.20 378.32L544.20 378.30L547.20 378.28L550.20 378.25L553.20 378.23L556.20 378.21L559.20 378.18L562.20 378.16L565.20 378.14L568.20 378.12L571.20 378.11L574.20 378.10L577.20 378.10L580.20 378.10L583.20 378.10L586.20 378.11L589.20 378.12L592.20 378.13L595.20 378.14L598.20 378.16L601.20 378.17L604.20 378.19L607.20 378.20L610.20 378.22L613.20 378.24L616.20 378.25L619.20 378.27L622.20 378.28L625.20 378.29L628.20 378.30L631.20 378.31L634.20 378.32L637.20 378.33L640.20 378.34L643.20 378.35L646.20 378.36L649.20 378.37L652.20 378.38L655.20 378.38L658.20 378.39L661.20 378.40L664.20 378.41L667.20 378.42L670.20 378.42L673.20 378.43L676.20 378.44L679.20 378.45L682.20 378.45L685.20 378.46L688.20 378.47L691.20 378.48L694.20 378.48L697.20 378.49L700.20 378.50L703.20 378.51L706.20 378.51L709.20 378.52L712.20 378.53L715.20 378.54L718.20 378.54L721.20 378.55L724.20 378.56L727.20 378.56L730.20 378.57L733.20 378.58L736.20 378.59L739.20 378.60L740.90 378.60L742.50 378.60L742.50 200.90Z" fill="rgb(116,189,250)"/>
<path d="M503.10 200.90L503.10 361.40L505.20 361.40L508.20 361.31L511.20 361.23L514.20 361.14L517.20 361.06L520.20 360.99L523.20 360.92L526.20 360.85L529.20 360.78L532.20 360.70L535.20 360.61L538.20 360.52L541.20 360.45L544.20 360.40L547.20 360.36L550.20 360.33L553.20 360.31L556.20 360.30L559.20 360.29L562.20 360.29L565.20 360.29L568.20 360.29L571.20 360.30L574.20 360.30L577.20 360.30L580.20 360.30L583.20 360.31L586.20 360.31L589.20 360.32L592.20 360.33L595.20 360.34L598.20 360.35L601.20 360.36L604.20 360.37L607.20 360.39L610.20 360.40L613.20 360.42L616.20 360.44L619.20 360.45L622.20 360.47L625.20 360.49L628.20 360.51L631.20 360.53L634.20 360.55L637.20 360.57L640.20 360.59L643.20 360.61L646.20 360.64L649.20 360.66L652.20 360.68L655.20 360.71L658.20 360.73L661.20 360.76L664.20 360.79L667.20 360.81L670.20 360.84L673.20 360.87L676.20 360.89L679.20 360.92L682.20 360.95L685.20 360.98L688.20 361.01L691.20 361.03L694.20 361.06L697.20 361.09L700.20 361.12L703.20 361.15L706.20 361.18L709.20 361.21L712.20 361.23L715.20 361.26L718.20 361.29L721.20 361.32L724.20 361.35L727.20 361.38L730.20 361.40L733.20 361.43L736.20 361.46L739.20 361.49L740.90 361.50L742.50 361.50L742.50 200.90Z" fill="rgb(86,168,248)"/>
<path d="M503.10 200.90L503.10 347.70L505.20 347.70L508.20 347.50L511.20 347.30L514.20 347.10L517.20 346.91L520.20 346.70L523.20 346.50L526.20 346.32L529.20 346.16L532.20 346.04L535.20 345.93L538.20 345.84L541.20 345.76L544.20 345.70L547.20 345.64L550.20 345.59L553.20 345.55L556.20 345.52L559.20 345.49L562.20 345.47L565.20 345.45L568.20 345.43L571.20 345.42L574.20 345.41L577.20 345.39L580.20 345.38L583.20 345.37L586.20 345.36L589.20 345.35L592.20 345.35L595.20 345.35L598.20 345.35L601.20 345.35L604.20 345.35L607.20 345.35L610.20 345.36L613.20 345.37L616.20 345.38L619.20 345.39L622.20 345.40L625.20 345.42L628.20 345.43L631.20 345.45L634.20 345.47L637.20 345.49L640.20 345.51L643.20 345.53L646.20 345.55L649.20 345.58L652.20 345.60L655.20 345.63L658.20 345.65L661.20 345.68L664.20 345.71L667.20 345.74L670.20 345.77L673.20 345.80L676.20 345.83L679.20 345.86L682.20 345.89L685.20 345.92L688.20 345.95L691.20 345.98L694.20 346.02L697.20 346.05L700.20 346.08L703.20 346.11L706.20 346.15L709.20 346.18L712.20 346.21L715.20 346.24L718.20 346.27L721.20 346.31L724.20 346.34L727.20 346.37L730.20 346.40L733.20 346.43L736.20 346.46L739.20 346.48L740.90 346.50L742.50 346.50L742.50 200.90Z" fill="rgb(68,147,241)"/>
<path d="M503.10 200.90L503.10 335.70L505.20 335.70L508.20 335.29L511.20 334.87L514.20 334.48L517.20 334.16L520.20 333.88L523.20 333.65L526.20 333.44L529.20 333.25L532.20 333.08L535.20 332.93L538.20 332.80L541.20 332.69L544.20 332.59L547.20 332.51L550.20 332.44L553.20 332.37L556.20 332.32L559.20 332.27L562.20 332.23L565.20 332.19L568.20 332.16L571.20 332.13L574.20 332.11L577.20 332.09L580.20 332.07L583.20 332.05L586.20 332.04L589.20 332.03L592.20 332.03L595.20 332.02L598.20 332.02L601.20 332.03L604.20 332.03L607.20 332.04L610.20 332.05L613.20 332.06L616.20 332.07L619.20 332.09L622.20 332.10L625.20 332.12L628.20 332.14L631.20 332.16L634.20 332.18L637.20 332.21L640.20 332.24L643.20 332.27L646.20 332.30L649.20 332.33L652.20 332.37L655.20 332.40L658.20 332.44L661.20 332.48L664.20 332.51L667.20 332.55L670.20 332.59L673.20 332.62L676.20 332.66L679.20 332.69L682.20 332.73L685.20 332.77L688.20 332.80L691.20 332.84L694.20 332.88L697.20 332.92L700.20 332.96L703.20 333.00L706.20 333.04L709.20 333.08L712.20 333.12L715.20 333.16L718.20 333.20L721.20 333.24L724.20 333.28L727.20 333.32L730.20 333.36L733.20 333.40L736.20 333.44L739.20 333.48L740.90 333.50L742.50 333.50L742.50 200.90Z" fill="rgb(62,125,229)"/>
<path d="M503.10 200.90L503.10 324.60L505.20 324.60L508.20 323.87L511.20 323.31L514.20 322.89L517.20 322.54L520.20 322.22L523.20 321.94L526.20 321.68L529.20 321.44L532.20 321.21L535.20 321.01L538.20 320.82L541.20 320.65L544.20 320.49L547.20 320.35L550.20 320.22L553.20 320.11L556.20 320.01L559.20 319.91L562.20 319.83L565.20 319.77L568.20 319.71L571.20 319.66L574.20 319.62L577.20 319.58L580.20 319.54L583.20 319.50L586.20 319.47L589.20 319.44L592.20 319.42L595.20 319.41L598.20 319.40L601.20 319.40L604.20 319.42L607.20 319.44L610.20 319.47L613.20 319.50L616.20 319.53L619.20 319.57L622.20 319.60L625.20 319.64L628.20 319.67L631.20 319.71L634.20 319.75L637.20 319.78L640.20 319.82L643.20 319.86L646.20 319.90L649.20 319.94L652.20 319.99L655.20 320.03L658.20 320.07L661.20 320.12L664.20 320.16L667.20 320.21L670.20 320.25L673.20 320.30L676.20 320.34L679.20 320.39L682.20 320.44L685.20 320.49L688.20 320.54L691.20 320.59L694.20 320.64L697.20 320.70L700.20 320.75L703.20 320.80L706.20 320.86L709.20 320.91L712.20 320.97L715.20 321.03L718.20 321.08L721.20 321.14L724.20 321.19L727.20 321.25L730.20 321.30L733.20 321.36L736.20 321.41L739.20 321.47L740.90 321.50L742.50 321.50L742.50 200.90Z" fill="rgb(60,101,216)"/>
<path d="M503.10 200.90L503.10 313.60L505.20 313.60L508.20 312.73L511.20 312.05L514.20 311.54L517.20 311.09L520.20 310.67L523.20 310.28L526.20 309.93L529.20 309.62L532.20 309.36L535.20 309.13L538.20 308.93L541.20 308.75L544.20 308.59L547.20 308.46L550.20 308.35L553.20 308.26L556.20 308.19L559.20 308.11L562.20 308.04L565.20 307.97L568.20 307.91L571.20 307.85L574.20 307.81L577.20 307.78L580.20 307.77L583.20 307.76L586.20 307.76L589.20 307.76L592.20 307.77L595.20 307.78L598.20 307.80L601.20 307.81L604.20 307.83L607.20 307.85L610.20 307.88L613.20 307.90L616.20 307.93L619.20 307.97L622.20 308.00L625.20 308.04L628.20 308.08L631.20 308.12L634.20 308.16L637.20 308.20L640.20 308.25L643.20 308.30L646.20 308.34L649.20 308.39L652.20 308.44L655.20 308.49L658.20 308.54L661.20 308.59L664.20 308.64L667.20 308.69L670.20 308.74L673.20 308.79L676.20 308.84L679.20 308.89L682.20 308.94L685.20 308.99L688.20 309.05L691.20 309.10L694.20 309.15L697.20 309.20L700.20 309.26L703.20 309.31L706.20 309.37L709.20 309.42L712.20 309.48L715.20 309.53L718.20 309.59L721.20 309.64L724.20 309.70L727.20 309.75L730.20 309.81L733.20 309.86L736.20 309.92L739.20 309.97L740.90 310.00L742.50 310.00L742.50 200.90Z" fill="rgb(60,78,203)"/>
<path d="M503.10 200.90L503.10 302.60L505.20 302.60L508.20 301.52L511.20 300.60L514.20 299.84L517.20 299.25L520.20 298.79L523.20 298.43L526.20 298.12L529.20 297.82L532.20 297.55L535.20 297.32L538.20 297.12L541.20 296.94L544.20 296.79L547.20 296.67L550.20 296.58L553.20 296.52L556.20 296.46L559.20 296.41L562.20 296.35L565.20 296.31L568.20 296.27L571.20 296.23L574.20 296.21L577.20 296.19L580.20 296.18L583.20 296.17L586.20 296.16L589.20 296.16L592.20 296.17L595.20 296.18L598.20 296.20L601.20 296.22L604.20 296.25L607.20 296.28L610.20 296.32L613.20 296.36L616.20 296.41L619.20 296.46L622.20 296.50L625.20 296.55L628.20 296.60L631.20 296.64L634.20 296.69L637.20 296.74L640.20 296.79L643.20 296.84L646.20 296.89L649.20 296.95L652.20 297.00L655.20 297.05L658.20 297.11L661.20 297.16L664.20 297.22L667.20 297.27L670.20 297.32L673.20 297.38L676.20 297.44L679.20 297.49L682.20 297.55L685.20 297.60L688.20 297.66L691.20 297.72L694.20 297.77L697.20 297.83L700.20 297.89L703.20 297.95L706.20 298.01L709.20 298.07L712.20 298.13L715.20 298.19L718.20 298.25L721.20 298.31L724.20 298.37L727.20 298.43L730.20 298.49L733.20 298.55L736.20 298.61L739.20 298.67L740.90 298.70L742.50 298.70L742.50 200.90Z" fill="rgb(63,60,191)"/>
<path d="M503.10 200.90L503.10 291.70L505.20 291.70L508.20 289.95L511.20 288.62L514.20 287.70L517.20 286.99L520.20 286.44L523.20 286.00L526.20 285.64L529.20 285.32L532.20 285.05L535.20 284.83L538.20 284.66L541.20 284.52L544.20 284.39L547.20 284.29L550.20 284.22L553.20 284.17L556.20 284.14L559.20 284.11L562.20 284.07L565.20 284.04L568.20 284.02L571.20 284.01L574.20 284.00L577.20 284.00L580.20 284.00L583.20 284.01L586.20 284.02L589.20 284.03L592.20 284.05L595.20 284.07L598.20 284.09L601.20 284.12L604.20 284.15L607.20 284.18L610.20 284.22L613.20 284.26L616.20 284.30L619.20 284.35L622.20 284.40L625.20 284.46L628.20 284.51L631.20 284.57L634.20 284.63L637.20 284.70L640.20 284.76L643.20 284.82L646.20 284.89L649.20 284.96L652.20 285.03L655.20 285.10L658.20 285.17L661.20 285.24L664.20 285.31L667.20 285.39L670.20 285.46L673.20 285.54L676.20 285.61L679.20 285.69L682.20 285.76L685.20 285.84L688.20 285.92L691.20 286.00L694.20 286.08L697.20 286.16L700.20 286.25L703.20 286.33L706.20 286.41L709.20 286.50L712.20 286.58L715.20 286.67L718.20 286.76L721.20 286.84L724.20 286.93L727.20 287.01L730.20 287.10L733.20 287.18L736.20 287.27L739.20 287.35L740.90 287.40L742.50 287.40L742.50 200.90Z" fill="rgb(69,42,179)"/>
<path d="M503.10 200.90L503.10 278.80L505.20 278.80L508.20 276.91L511.20 275.43L514.20 274.35L517.20 273.57L520.20 273.01L523.20 272.61L526.20 272.30L529.20 272.03L532.20 271.83L535.20 271.69L538.20 271.61L541.20 271.55L544.20 271.50L547.20 271.46L550.20 271.46L553.20 271.47L556.20 271.49L559.20 271.50L562.20 271.50L565.20 271.49L568.20 271.49L571.20 271.49L574.20 271.49L577.20 271.51L580.20 271.54L583.20 271.57L586.20 271.61L589.20 271.65L592.20 271.69L595.20 271.74L598.20 271.79L601.20 271.84L604.20 271.90L607.20 271.96L610.20 272.02L613.20 272.09L616.20 272.16L619.20 272.23L622.20 272.31L625.20 272.39L628.20 272.48L631.20 272.57L634.20 272.67L637.20 272.76L640.20 272.86L643.20 272.95L646.20 273.04L649.20 273.12L652.20 273.19L655.20 273.26L658.20 273.32L661.20 273.38L664.20 273.44L667.20 273.50L670.20 273.57L673.20 273.63L676.20 273.71L679.20 273.79L682.20 273.87L685.20 273.97L688.20 274.08L691.20 274.18L694.20 274.30L697.20 274.41L700.20 274.52L703.20 274.63L706.20 274.74L709.20 274.84L712.20 274.93L715.20 275.02L718.20 275.11L721.20 275.19L724.20 275.27L727.20 275.35L730.20 275.42L733.20 275.50L736.20 275.58L739.20 275.65L740.90 275.70L742.50 275.70L742.50 200.90Z" fill="rgb(74,23,165)"/>
<path d="M503.10 200.90L503.10 265.90L505.20 265.90L508.20 263.55L511.20 261.87L514.20 260.82L517.20 260.09L520.20 259.58L523.20 259.24L526.20 258.98L529.20 258.73L532.20 258.50L535.20 258.33L538.20 258.19L541.20 258.08L544.20 257.99L547.20 257.94L550.20 257.93L553.20 257.94L556.20 257.96L559.20 258.00L562.20 258.03L565.20 258.08L568.20 258.14L571.20 258.21L574.20 258.28L577.20 258.34L580.20 258.39L583.20 258.44L586.20 258.50L589.20 258.55L592.20 258.62L595.20 258.69L598.20 258.78L601.20 258.88L604.20 259.00L607.20 259.13L610.20 259.27L613.20 259.41L616.20 259.55L619.20 259.69L622.20 259.81L625.20 259.92L628.20 260.03L631.20 260.14L634.20 260.24L637.20 260.34L640.20 260.44L643.20 260.54L646.20 260.63L649.20 260.72L652.20 260.82L655.20 260.90L658.20 260.99L661.20 261.07L664.20 261.15L667.20 261.23L670.20 261.32L673.20 261.40L676.20 261.49L679.20 261.58L682.20 261.68L685.20 261.78L688.20 261.88L691.20 261.99L694.20 262.09L697.20 262.20L700.20 262.31L703.20 262.41L706.20 262.52L709.20 262.63L712.20 262.74L715.20 262.85L718.20 262.96L721.20 263.07L724.20 263.18L727.20 263.29L730.20 263.40L733.20 263.51L736.20 263.63L739.20 263.74L740.90 263.80L742.50 263.80L742.50 200.90Z" fill="rgb(69,13,148)"/>
<path d="M503.10 200.90L503.10 251.70L505.20 251.70L508.20 249.42L511.20 247.78L514.20 246.73L517.20 245.96L520.20 245.38L523.20 244.94L526.20 244.61L529.20 244.33L532.20 244.14L535.20 244.03L538.20 243.97L541.20 243.94L544.20 243.90L547.20 243.86L550.20 243.84L553.20 243.84L556.20 243.86L559.20 243.89L562.20 243.95L565.20 244.04L568.20 244.14L571.20 244.25L574.20 244.36L577.20 244.46L580.20 244.56L583.20 244.65L586.20 244.75L589.20 244.85L592.20 244.95L595.20 245.06L598.20 245.17L601.20 245.29L604.20 245.41L607.20 245.54L610.20 245.67L613.20 245.81L616.20 245.94L619.20 246.08L622.20 246.21L625.20 246.34L628.20 246.48L631.20 246.62L634.20 246.76L637.20 246.90L640.20 247.04L643.20 247.17L646.20 247.31L649.20 247.43L652.20 247.55L655.20 247.67L658.20 247.78L661.20 247.89L664.20 247.99L667.20 248.10L670.20 248.21L673.20 248.33L676.20 248.45L679.20 248.58L682.20 248.72L685.20 248.86L688.20 249.01L691.20 249.17L694.20 249.33L697.20 249.49L700.20 249.65L703.20 249.81L706.20 249.96L709.20 250.11L712.20 250.25L715.20 250.38L718.20 250.51L721.20 250.63L724.20 250.75L727.20 250.87L730.20 250.98L733.20 251.10L736.20 251.21L739.20 251.33L740.90 251.40L742.50 251.40L742.50 200.90Z" fill="rgb(62,7,129)"/>
<path d="M503.10 200.90L503.10 235.30L505.20 235.30L508.20 233.32L511.20 231.89L514.20 230.97L517.20 230.32L520.20 229.88L523.20 229.58L526.20 229.35L529.20 229.14L532.20 228.97L535.20 228.85L538.20 228.77L541.20 228.73L544.20 228.70L547.20 228.71L550.20 228.75L553.20 228.82L556.20 228.90L559.20 228.99L562.20 229.07L565.20 229.15L568.20 229.24L571.20 229.34L574.20 229.45L577.20 229.57L580.20 229.70L583.20 229.83L586.20 229.98L589.20 230.12L592.20 230.27L595.20 230.42L598.20 230.57L601.20 230.71L604.20 230.87L607.20 231.02L610.20 231.18L613.20 231.34L616.20 231.49L619.20 231.65L622.20 231.81L625.20 231.97L628.20 232.13L631.20 232.29L634.20 232.45L637.20 232.61L640.20 232.77L643.20 232.93L646.20 233.09L649.20 233.24L652.20 233.39L655.20 233.54L658.20 233.69L661.20 233.83L664.20 233.98L667.20 234.13L670.20 234.28L673.20 234.44L676.20 234.60L679.20 234.77L682.20 234.95L685.20 235.14L688.20 235.35L691.20 235.55L694.20 235.77L697.20 235.98L700.20 236.19L703.20 236.40L706.20 236.60L709.20 236.79L712.20 236.96L715.20 237.13L718.20 237.29L721.20 237.44L724.20 237.59L727.20 237.74L730.20 237.88L733.20 238.02L736.20 238.17L739.20 238.32L740.90 238.40L742.50 238.40L742.50 200.90Z" fill="rgb(54,3,111)"/>
<path d="M503.10 200.90L503.10 219.60L505.20 219.60L508.20 217.33L511.20 215.66L514.20 214.54L517.20 213.77L520.20 213.24L523.20 212.89L526.20 212.64L529.20 212.45L532.20 212.34L535.20 212.32L538.20 212.36L541.20 212.43L544.20 212.51L547.20 212.61L550.20 212.74L553.20 212.91L556.20 213.09L559.20 213.27L562.20 213.46L565.20 213.67L568.20 213.89L571.20 214.11L574.20 214.32L577.20 214.51L580.20 214.69L583.20 214.86L586.20 215.03L589.20 215.19L592.20 215.35L595.20 215.50L598.20 215.66L601.20 215.82L604.20 215.97L607.20 216.12L610.20 216.26L613.20 216.41L616.20 216.57L619.20 216.73L622.20 216.91L625.20 217.11L628.20 217.31L631.20 217.53L634.20 217.75L637.20 217.98L640.20 218.20L643.20 218.43L646.20 218.64L649.20 218.86L652.20 219.06L655.20 219.27L658.20 219.48L661.20 219.68L664.20 219.89L667.20 220.09L670.20 220.29L673.20 220.49L676.20 220.68L679.20 220.87L682.20 221.05L685.20 221.23L688.20 221.40L691.20 221.57L694.20 221.74L697.20 221.91L700.20 222.07L703.20 222.24L706.20 222.41L709.20 222.59L712.20 222.77L715.20 222.95L718.20 223.14L721.20 223.33L724.20 223.52L727.20 223.72L730.20 223.91L733.20 224.10L736.20 224.30L739.20 224.49L740.90 224.60L742.50 224.60L742.50 200.90Z" fill="rgb(47,1,94)"/>
<path d="M635.80 200.90L635.80 202.90L638.80 203.06L641.80 203.21L644.80 203.36L647.80 203.51L650.80 203.67L653.80 203.82L656.80 203.98L659.80 204.15L662.80 204.33L665.80 204.51L668.80 204.70L671.80 204.90L674.80 205.10L677.80 205.30L680.80 205.51L683.80 205.73L686.80 205.95L689.80 206.17L692.80 206.40L695.80 206.63L698.80 206.87L701.80 207.11L704.80 207.36L707.80 207.62L710.80 207.88L713.80 208.14L716.80 208.41L719.80 208.68L722.80 208.96L725.80 209.24L728.80 209.53L731.80 209.82L734.80 210.11L737.80 210.40L740.80 210.69L740.90 210.70L742.50 210.70L742.50 200.90Z" fill="rgb(41,0,78)"/>
<rect x="505.10" y="202.90" width="235.40" height="254.00" fill="#fff" fill-opacity="0.040"/>
<line x1="496.90" y1="202.90" x2="496.90" y2="456.90" stroke="#fff" stroke-opacity="0.09" stroke-width="0.9"/>
<line x1="501.00" y1="202.90" x2="501.00" y2="456.90" stroke="#fff" stroke-opacity="0.04" stroke-width="0.9"/>
<line x1="505.10" y1="202.90" x2="505.10" y2="456.90" stroke="#fff" stroke-opacity="0.04" stroke-width="0.9"/>
<line x1="509.30" y1="202.90" x2="509.30" y2="456.90" stroke="#fff" stroke-opacity="0.09" stroke-width="0.9"/>
<line x1="513.43" y1="202.90" x2="513.43" y2="456.90" stroke="#fff" stroke-opacity="0.09" stroke-width="0.9"/>
<line x1="517.53" y1="202.90" x2="517.53" y2="456.90" stroke="#fff" stroke-opacity="0.04" stroke-width="0.9"/>
<line x1="521.63" y1="202.90" x2="521.63" y2="456.90" stroke="#fff" stroke-opacity="0.04" stroke-width="0.9"/>
<line x1="525.83" y1="202.90" x2="525.83" y2="456.90" stroke="#fff" stroke-opacity="0.09" stroke-width="0.9"/>
<line x1="529.96" y1="202.90" x2="529.96" y2="456.90" stroke="#fff" stroke-opacity="0.09" stroke-width="0.9"/>
<line x1="534.06" y1="202.90" x2="534.06" y2="456.90" stroke="#fff" stroke-opacity="0.04" stroke-width="0.9"/>
<line x1="538.16" y1="202.90" x2="538.16" y2="456.90" stroke="#fff" stroke-opacity="0.04" stroke-width="0.9"/>
<line x1="542.36" y1="202.90" x2="542.36" y2="456.90" stroke="#fff" stroke-opacity="0.09" stroke-width="0.9"/>
<line x1="546.49" y1="202.90" x2="546.49" y2="456.90" stroke="#fff" stroke-opacity="0.09" stroke-width="0.9"/>
<line x1="550.59" y1="202.90" x2="550.59" y2="456.90" stroke="#fff" stroke-opacity="0.04" stroke-width="0.9"/>
<line x1="554.69" y1="202.90" x2="554.69" y2="456.90" stroke="#fff" stroke-opacity="0.04" stroke-width="0.9"/>
<line x1="558.89" y1="202.90" x2="558.89" y2="456.90" stroke="#fff" stroke-opacity="0.09" stroke-width="0.9"/>
<line x1="563.02" y1="202.90" x2="563.02" y2="456.90" stroke="#fff" stroke-opacity="0.09" stroke-width="0.9"/>
<line x1="567.12" y1="202.90" x2="567.12" y2="456.90" stroke="#fff" stroke-opacity="0.04" stroke-width="0.9"/>
<line x1="571.22" y1="202.90" x2="571.22" y2="456.90" stroke="#fff" stroke-opacity="0.04" stroke-width="0.9"/>
<line x1="575.42" y1="202.90" x2="575.42" y2="456.90" stroke="#fff" stroke-opacity="0.09" stroke-width="0.9"/>
<line x1="579.55" y1="202.90" x2="579.55" y2="456.90" stroke="#fff" stroke-opacity="0.09" stroke-width="0.9"/>
<line x1="583.65" y1="202.90" x2="583.65" y2="456.90" stroke="#fff" stroke-opacity="0.04" stroke-width="0.9"/>
<line x1="587.75" y1="202.90" x2="587.75" y2="456.90" stroke="#fff" stroke-opacity="0.04" stroke-width="0.9"/>
<line x1="591.95" y1="202.90" x2="591.95" y2="456.90" stroke="#fff" stroke-opacity="0.09" stroke-width="0.9"/>
<line x1="596.08" y1="202.90" x2="596.08" y2="456.90" stroke="#fff" stroke-opacity="0.09" stroke-width="0.9"/>
<line x1="600.18" y1="202.90" x2="600.18" y2="456.90" stroke="#fff" stroke-opacity="0.04" stroke-width="0.9"/>
<line x1="604.28" y1="202.90" x2="604.28" y2="456.90" stroke="#fff" stroke-opacity="0.04" stroke-width="0.9"/>
<line x1="608.48" y1="202.90" x2="608.48" y2="456.90" stroke="#fff" stroke-opacity="0.09" stroke-width="0.9"/>
<line x1="612.61" y1="202.90" x2="612.61" y2="456.90" stroke="#fff" stroke-opacity="0.09" stroke-width="0.9"/>
<line x1="616.71" y1="202.90" x2="616.71" y2="456.90" stroke="#fff" stroke-opacity="0.04" stroke-width="0.9"/>
<line x1="620.81" y1="202.90" x2="620.81" y2="456.90" stroke="#fff" stroke-opacity="0.04" stroke-width="0.9"/>
<line x1="625.01" y1="202.90" x2="625.01" y2="456.90" stroke="#fff" stroke-opacity="0.09" stroke-width="0.9"/>
<line x1="629.14" y1="202.90" x2="629.14" y2="456.90" stroke="#fff" stroke-opacity="0.09" stroke-width="0.9"/>
<line x1="633.24" y1="202.90" x2="633.24" y2="456.90" stroke="#fff" stroke-opacity="0.04" stroke-width="0.9"/>
<line x1="637.34" y1="202.90" x2="637.34" y2="456.90" stroke="#fff" stroke-opacity="0.04" stroke-width="0.9"/>
<line x1="641.54" y1="202.90" x2="641.54" y2="456.90" stroke="#fff" stroke-opacity="0.09" stroke-width="0.9"/>
<line x1="645.67" y1="202.90" x2="645.67" y2="456.90" stroke="#fff" stroke-opacity="0.09" stroke-width="0.9"/>
<line x1="649.77" y1="202.90" x2="649.77" y2="456.90" stroke="#fff" stroke-opacity="0.04" stroke-width="0.9"/>
<line x1="653.87" y1="202.90" x2="653.87" y2="456.90" stroke="#fff" stroke-opacity="0.04" stroke-width="0.9"/>
<line x1="658.07" y1="202.90" x2="658.07" y2="456.90" stroke="#fff" stroke-opacity="0.09" stroke-width="0.9"/>
<line x1="662.20" y1="202.90" x2="662.20" y2="456.90" stroke="#fff" stroke-opacity="0.09" stroke-width="0.9"/>
<line x1="666.30" y1="202.90" x2="666.30" y2="456.90" stroke="#fff" stroke-opacity="0.04" stroke-width="0.9"/>
<line x1="670.40" y1="202.90" x2="670.40" y2="456.90" stroke="#fff" stroke-opacity="0.04" stroke-width="0.9"/>
<line x1="674.60" y1="202.90" x2="674.60" y2="456.90" stroke="#fff" stroke-opacity="0.09" stroke-width="0.9"/>
<line x1="678.73" y1="202.90" x2="678.73" y2="456.90" stroke="#fff" stroke-opacity="0.09" stroke-width="0.9"/>
<line x1="682.83" y1="202.90" x2="682.83" y2="456.90" stroke="#fff" stroke-opacity="0.04" stroke-width="0.9"/>
<line x1="686.93" y1="202.90" x2="686.93" y2="456.90" stroke="#fff" stroke-opacity="0.04" stroke-width="0.9"/>
<line x1="691.13" y1="202.90" x2="691.13" y2="456.90" stroke="#fff" stroke-opacity="0.09" stroke-width="0.9"/>
<line x1="695.26" y1="202.90" x2="695.26" y2="456.90" stroke="#fff" stroke-opacity="0.09" stroke-width="0.9"/>
<line x1="699.36" y1="202.90" x2="699.36" y2="456.90" stroke="#fff" stroke-opacity="0.04" stroke-width="0.9"/>
<line x1="703.46" y1="202.90" x2="703.46" y2="456.90" stroke="#fff" stroke-opacity="0.04" stroke-width="0.9"/>
<line x1="707.66" y1="202.90" x2="707.66" y2="456.90" stroke="#fff" stroke-opacity="0.09" stroke-width="0.9"/>
<line x1="711.79" y1="202.90" x2="711.79" y2="456.90" stroke="#fff" stroke-opacity="0.09" stroke-width="0.9"/>
<line x1="715.89" y1="202.90" x2="715.89" y2="456.90" stroke="#fff" stroke-opacity="0.04" stroke-width="0.9"/>
<line x1="719.99" y1="202.90" x2="719.99" y2="456.90" stroke="#fff" stroke-opacity="0.04" stroke-width="0.9"/>
<line x1="724.19" y1="202.90" x2="724.19" y2="456.90" stroke="#fff" stroke-opacity="0.09" stroke-width="0.9"/>
<line x1="728.32" y1="202.90" x2="728.32" y2="456.90" stroke="#fff" stroke-opacity="0.09" stroke-width="0.9"/>
<line x1="732.42" y1="202.90" x2="732.42" y2="456.90" stroke="#fff" stroke-opacity="0.04" stroke-width="0.9"/>
<line x1="736.52" y1="202.90" x2="736.52" y2="456.90" stroke="#fff" stroke-opacity="0.04" stroke-width="0.9"/>
<line x1="740.72" y1="202.90" x2="740.72" y2="456.90" stroke="#fff" stroke-opacity="0.09" stroke-width="0.9"/>
<line x1="744.85" y1="202.90" x2="744.85" y2="456.90" stroke="#fff" stroke-opacity="0.09" stroke-width="0.9"/>
<line x1="748.95" y1="202.90" x2="748.95" y2="456.90" stroke="#fff" stroke-opacity="0.04" stroke-width="0.9"/>
<line x1="753.05" y1="202.90" x2="753.05" y2="456.90" stroke="#fff" stroke-opacity="0.04" stroke-width="0.9"/>
<line x1="757.25" y1="202.90" x2="757.25" y2="456.90" stroke="#fff" stroke-opacity="0.09" stroke-width="0.9"/>
<path d="M505.20 400.00L508.20 401.45L511.20 401.72L514.20 401.55L517.20 401.51L520.20 401.52L523.20 401.52L526.20 401.52L529.20 401.51L532.20 401.51L535.20 401.50L538.20 401.49L541.20 401.49L544.20 401.50L547.20 401.51L550.20 401.53L553.20 401.55L556.20 401.57L559.20 401.59L562.20 401.62L565.20 401.64L568.20 401.66L571.20 401.68L574.20 401.69L577.20 401.71L580.20 401.72L583.20 401.73L586.20 401.74L589.20 401.74L592.20 401.75L595.20 401.76L598.20 401.76L601.20 401.76L604.20 401.77L607.20 401.77L610.20 401.78L613.20 401.78L616.20 401.78L619.20 401.79L622.20 401.79L625.20 401.80L628.20 401.80L631.20 401.81L634.20 401.81L637.20 401.82L640.20 401.82L643.20 401.83L646.20 401.83L649.20 401.84L652.20 401.85L655.20 401.85L658.20 401.86L661.20 401.86L664.20 401.87L667.20 401.87L670.20 401.88L673.20 401.88L676.20 401.89L679.20 401.89L682.20 401.90L685.20 401.90L688.20 401.91L691.20 401.91L694.20 401.92L697.20 401.92L700.20 401.93L703.20 401.93L706.20 401.94L709.20 401.94L712.20 401.95L715.20 401.96L718.20 401.96L721.20 401.97L724.20 401.97L727.20 401.98L730.20 401.98L733.20 401.99L736.20 401.99L739.20 402.00L740.90 402.00" fill="none" stroke="#000" stroke-opacity="0.5" stroke-width="0.6"/>
<path d="M505.20 377.50L508.20 378.47L511.20 378.62L514.20 378.52L517.20 378.51L520.20 378.52L523.20 378.51L526.20 378.49L529.20 378.46L532.20 378.43L535.20 378.39L538.20 378.35L541.20 378.32L544.20 378.30L547.20 378.28L550.20 378.25L553.20 378.23L556.20 378.21L559.20 378.18L562.20 378.16L565.20 378.14L568.20 378.12L571.20 378.11L574.20 378.10L577.20 378.10L580.20 378.10L583.20 378.10L586.20 378.11L589.20 378.12L592.20 378.13L595.20 378.14L598.20 378.16L601.20 378.17L604.20 378.19L607.20 378.20L610.20 378.22L613.20 378.24L616.20 378.25L619.20 378.27L622.20 378.28L625.20 378.29L628.20 378.30L631.20 378.31L634.20 378.32L637.20 378.33L640.20 378.34L643.20 378.35L646.20 378.36L649.20 378.37L652.20 378.38L655.20 378.38L658.20 378.39L661.20 378.40L664.20 378.41L667.20 378.42L670.20 378.42L673.20 378.43L676.20 378.44L679.20 378.45L682.20 378.45L685.20 378.46L688.20 378.47L691.20 378.48L694.20 378.48L697.20 378.49L700.20 378.50L703.20 378.51L706.20 378.51L709.20 378.52L712.20 378.53L715.20 378.54L718.20 378.54L721.20 378.55L724.20 378.56L727.20 378.56L730.20 378.57L733.20 378.58L736.20 378.59L739.20 378.60L740.90 378.60" fill="none" stroke="#000" stroke-opacity="0.5" stroke-width="0.6"/>
<path d="M505.20 361.40L508.20 361.31L511.20 361.23L514.20 361.14L517.20 361.06L520.20 360.99L523.20 360.92L526.20 360.85L529.20 360.78L532.20 360.70L535.20 360.61L538.20 360.52L541.20 360.45L544.20 360.40L547.20 360.36L550.20 360.33L553.20 360.31L556.20 360.30L559.20 360.29L562.20 360.29L565.20 360.29L568.20 360.29L571.20 360.30L574.20 360.30L577.20 360.30L580.20 360.30L583.20 360.31L586.20 360.31L589.20 360.32L592.20 360.33L595.20 360.34L598.20 360.35L601.20 360.36L604.20 360.37L607.20 360.39L610.20 360.40L613.20 360.42L616.20 360.44L619.20 360.45L622.20 360.47L625.20 360.49L628.20 360.51L631.20 360.53L634.20 360.55L637.20 360.57L640.20 360.59L643.20 360.61L646.20 360.64L649.20 360.66L652.20 360.68L655.20 360.71L658.20 360.73L661.20 360.76L664.20 360.79L667.20 360.81L670.20 360.84L673.20 360.87L676.20 360.89L679.20 360.92L682.20 360.95L685.20 360.98L688.20 361.01L691.20 361.03L694.20 361.06L697.20 361.09L700.20 361.12L703.20 361.15L706.20 361.18L709.20 361.21L712.20 361.23L715.20 361.26L718.20 361.29L721.20 361.32L724.20 361.35L727.20 361.38L730.20 361.40L733.20 361.43L736.20 361.46L739.20 361.49L740.90 361.50" fill="none" stroke="#000" stroke-opacity="0.5" stroke-width="0.6"/>
<path d="M505.20 347.70L508.20 347.50L511.20 347.30L514.20 347.10L517.20 346.91L520.20 346.70L523.20 346.50L526.20 346.32L529.20 346.16L532.20 346.04L535.20 345.93L538.20 345.84L541.20 345.76L544.20 345.70L547.20 345.64L550.20 345.59L553.20 345.55L556.20 345.52L559.20 345.49L562.20 345.47L565.20 345.45L568.20 345.43L571.20 345.42L574.20 345.41L577.20 345.39L580.20 345.38L583.20 345.37L586.20 345.36L589.20 345.35L592.20 345.35L595.20 345.35L598.20 345.35L601.20 345.35L604.20 345.35L607.20 345.35L610.20 345.36L613.20 345.37L616.20 345.38L619.20 345.39L622.20 345.40L625.20 345.42L628.20 345.43L631.20 345.45L634.20 345.47L637.20 345.49L640.20 345.51L643.20 345.53L646.20 345.55L649.20 345.58L652.20 345.60L655.20 345.63L658.20 345.65L661.20 345.68L664.20 345.71L667.20 345.74L670.20 345.77L673.20 345.80L676.20 345.83L679.20 345.86L682.20 345.89L685.20 345.92L688.20 345.95L691.20 345.98L694.20 346.02L697.20 346.05L700.20 346.08L703.20 346.11L706.20 346.15L709.20 346.18L712.20 346.21L715.20 346.24L718.20 346.27L721.20 346.31L724.20 346.34L727.20 346.37L730.20 346.40L733.20 346.43L736.20 346.46L739.20 346.48L740.90 346.50" fill="none" stroke="#000" stroke-opacity="0.5" stroke-width="0.6"/>
<path d="M505.20 335.70L508.20 335.29L511.20 334.87L514.20 334.48L517.20 334.16L520.20 333.88L523.20 333.65L526.20 333.44L529.20 333.25L532.20 333.08L535.20 332.93L538.20 332.80L541.20 332.69L544.20 332.59L547.20 332.51L550.20 332.44L553.20 332.37L556.20 332.32L559.20 332.27L562.20 332.23L565.20 332.19L568.20 332.16L571.20 332.13L574.20 332.11L577.20 332.09L580.20 332.07L583.20 332.05L586.20 332.04L589.20 332.03L592.20 332.03L595.20 332.02L598.20 332.02L601.20 332.03L604.20 332.03L607.20 332.04L610.20 332.05L613.20 332.06L616.20 332.07L619.20 332.09L622.20 332.10L625.20 332.12L628.20 332.14L631.20 332.16L634.20 332.18L637.20 332.21L640.20 332.24L643.20 332.27L646.20 332.30L649.20 332.33L652.20 332.37L655.20 332.40L658.20 332.44L661.20 332.48L664.20 332.51L667.20 332.55L670.20 332.59L673.20 332.62L676.20 332.66L679.20 332.69L682.20 332.73L685.20 332.77L688.20 332.80L691.20 332.84L694.20 332.88L697.20 332.92L700.20 332.96L703.20 333.00L706.20 333.04L709.20 333.08L712.20 333.12L715.20 333.16L718.20 333.20L721.20 333.24L724.20 333.28L727.20 333.32L730.20 333.36L733.20 333.40L736.20 333.44L739.20 333.48L740.90 333.50" fill="none" stroke="#000" stroke-opacity="0.5" stroke-width="0.6"/>
<path d="M505.20 324.60L508.20 323.87L511.20 323.31L514.20 322.89L517.20 322.54L520.20 322.22L523.20 321.94L526.20 321.68L529.20 321.44L532.20 321.21L535.20 321.01L538.20 320.82L541.20 320.65L544.20 320.49L547.20 320.35L550.20 320.22L553.20 320.11L556.20 320.01L559.20 319.91L562.20 319.83L565.20 319.77L568.20 319.71L571.20 319.66L574.20 319.62L577.20 319.58L580.20 319.54L583.20 319.50L586.20 319.47L589.20 319.44L592.20 319.42L595.20 319.41L598.20 319.40L601.20 319.40L604.20 319.42L607.20 319.44L610.20 319.47L613.20 319.50L616.20 319.53L619.20 319.57L622.20 319.60L625.20 319.64L628.20 319.67L631.20 319.71L634.20 319.75L637.20 319.78L640.20 319.82L643.20 319.86L646.20 319.90L649.20 319.94L652.20 319.99L655.20 320.03L658.20 320.07L661.20 320.12L664.20 320.16L667.20 320.21L670.20 320.25L673.20 320.30L676.20 320.34L679.20 320.39L682.20 320.44L685.20 320.49L688.20 320.54L691.20 320.59L694.20 320.64L697.20 320.70L700.20 320.75L703.20 320.80L706.20 320.86L709.20 320.91L712.20 320.97L715.20 321.03L718.20 321.08L721.20 321.14L724.20 321.19L727.20 321.25L730.20 321.30L733.20 321.36L736.20 321.41L739.20 321.47L740.90 321.50" fill="none" stroke="#000" stroke-opacity="0.5" stroke-width="0.6"/>
<path d="M505.20 313.60L508.20 312.73L511.20 312.05L514.20 311.54L517.20 311.09L520.20 310.67L523.20 310.28L526.20 309.93L529.20 309.62L532.20 309.36L535.20 309.13L538.20 308.93L541.20 308.75L544.20 308.59L547.20 308.46L550.20 308.35L553.20 308.26L556.20 308.19L559.20 308.11L562.20 308.04L565.20 307.97L568.20 307.91L571.20 307.85L574.20 307.81L577.20 307.78L580.20 307.77L583.20 307.76L586.20 307.76L589.20 307.76L592.20 307.77L595.20 307.78L598.20 307.80L601.20 307.81L604.20 307.83L607.20 307.85L610.20 307.88L613.20 307.90L616.20 307.93L619.20 307.97L622.20 308.00L625.20 308.04L628.20 308.08L631.20 308.12L634.20 308.16L637.20 308.20L640.20 308.25L643.20 308.30L646.20 308.34L649.20 308.39L652.20 308.44L655.20 308.49L658.20 308.54L661.20 308.59L664.20 308.64L667.20 308.69L670.20 308.74L673.20 308.79L676.20 308.84L679.20 308.89L682.20 308.94L685.20 308.99L688.20 309.05L691.20 309.10L694.20 309.15L697.20 309.20L700.20 309.26L703.20 309.31L706.20 309.37L709.20 309.42L712.20 309.48L715.20 309.53L718.20 309.59L721.20 309.64L724.20 309.70L727.20 309.75L730.20 309.81L733.20 309.86L736.20 309.92L739.20 309.97L740.90 310.00" fill="none" stroke="#000" stroke-opacity="0.5" stroke-width="0.6"/>
<path d="M505.20 302.60L508.20 301.52L511.20 300.60L514.20 299.84L517.20 299.25L520.20 298.79L523.20 298.43L526.20 298.12L529.20 297.82L532.20 297.55L535.20 297.32L538.20 297.12L541.20 296.94L544.20 296.79L547.20 296.67L550.20 296.58L553.20 296.52L556.20 296.46L559.20 296.41L562.20 296.35L565.20 296.31L568.20 296.27L571.20 296.23L574.20 296.21L577.20 296.19L580.20 296.18L583.20 296.17L586.20 296.16L589.20 296.16L592.20 296.17L595.20 296.18L598.20 296.20L601.20 296.22L604.20 296.25L607.20 296.28L610.20 296.32L613.20 296.36L616.20 296.41L619.20 296.46L622.20 296.50L625.20 296.55L628.20 296.60L631.20 296.64L634.20 296.69L637.20 296.74L640.20 296.79L643.20 296.84L646.20 296.89L649.20 296.95L652.20 297.00L655.20 297.05L658.20 297.11L661.20 297.16L664.20 297.22L667.20 297.27L670.20 297.32L673.20 297.38L676.20 297.44L679.20 297.49L682.20 297.55L685.20 297.60L688.20 297.66L691.20 297.72L694.20 297.77L697.20 297.83L700.20 297.89L703.20 297.95L706.20 298.01L709.20 298.07L712.20 298.13L715.20 298.19L718.20 298.25L721.20 298.31L724.20 298.37L727.20 298.43L730.20 298.49L733.20 298.55L736.20 298.61L739.20 298.67L740.90 298.70" fill="none" stroke="#000" stroke-opacity="0.5" stroke-width="0.6"/>
<path d="M505.20 291.70L508.20 289.95L511.20 288.62L514.20 287.70L517.20 286.99L520.20 286.44L523.20 286.00L526.20 285.64L529.20 285.32L532.20 285.05L535.20 284.83L538.20 284.66L541.20 284.52L544.20 284.39L547.20 284.29L550.20 284.22L553.20 284.17L556.20 284.14L559.20 284.11L562.20 284.07L565.20 284.04L568.20 284.02L571.20 284.01L574.20 284.00L577.20 284.00L580.20 284.00L583.20 284.01L586.20 284.02L589.20 284.03L592.20 284.05L595.20 284.07L598.20 284.09L601.20 284.12L604.20 284.15L607.20 284.18L610.20 284.22L613.20 284.26L616.20 284.30L619.20 284.35L622.20 284.40L625.20 284.46L628.20 284.51L631.20 284.57L634.20 284.63L637.20 284.70L640.20 284.76L643.20 284.82L646.20 284.89L649.20 284.96L652.20 285.03L655.20 285.10L658.20 285.17L661.20 285.24L664.20 285.31L667.20 285.39L670.20 285.46L673.20 285.54L676.20 285.61L679.20 285.69L682.20 285.76L685.20 285.84L688.20 285.92L691.20 286.00L694.20 286.08L697.20 286.16L700.20 286.25L703.20 286.33L706.20 286.41L709.20 286.50L712.20 286.58L715.20 286.67L718.20 286.76L721.20 286.84L724.20 286.93L727.20 287.01L730.20 287.10L733.20 287.18L736.20 287.27L739.20 287.35L740.90 287.40" fill="none" stroke="#000" stroke-opacity="0.5" stroke-width="0.6"/>
<path d="M505.20 278.80L508.20 276.91L511.20 275.43L514.20 274.35L517.20 273.57L520.20 273.01L523.20 272.61L526.20 272.30L529.20 272.03L532.20 271.83L535.20 271.69L538.20 271.61L541.20 271.55L544.20 271.50L547.20 271.46L550.20 271.46L553.20 271.47L556.20 271.49L559.20 271.50L562.20 271.50L565.20 271.49L568.20 271.49L571.20 271.49L574.20 271.49L577.20 271.51L580.20 271.54L583.20 271.57L586.20 271.61L589.20 271.65L592.20 271.69L595.20 271.74L598.20 271.79L601.20 271.84L604.20 271.90L607.20 271.96L610.20 272.02L613.20 272.09L616.20 272.16L619.20 272.23L622.20 272.31L625.20 272.39L628.20 272.48L631.20 272.57L634.20 272.67L637.20 272.76L640.20 272.86L643.20 272.95L646.20 273.04L649.20 273.12L652.20 273.19L655.20 273.26L658.20 273.32L661.20 273.38L664.20 273.44L667.20 273.50L670.20 273.57L673.20 273.63L676.20 273.71L679.20 273.79L682.20 273.87L685.20 273.97L688.20 274.08L691.20 274.18L694.20 274.30L697.20 274.41L700.20 274.52L703.20 274.63L706.20 274.74L709.20 274.84L712.20 274.93L715.20 275.02L718.20 275.11L721.20 275.19L724.20 275.27L727.20 275.35L730.20 275.42L733.20 275.50L736.20 275.58L739.20 275.65L740.90 275.70" fill="none" stroke="#000" stroke-opacity="0.5" stroke-width="0.6"/>
<path d="M505.20 265.90L508.20 263.55L511.20 261.87L514.20 260.82L517.20 260.09L520.20 259.58L523.20 259.24L526.20 258.98L529.20 258.73L532.20 258.50L535.20 258.33L538.20 258.19L541.20 258.08L544.20 257.99L547.20 257.94L550.20 257.93L553.20 257.94L556.20 257.96L559.20 258.00L562.20 258.03L565.20 258.08L568.20 258.14L571.20 258.21L574.20 258.28L577.20 258.34L580.20 258.39L583.20 258.44L586.20 258.50L589.20 258.55L592.20 258.62L595.20 258.69L598.20 258.78L601.20 258.88L604.20 259.00L607.20 259.13L610.20 259.27L613.20 259.41L616.20 259.55L619.20 259.69L622.20 259.81L625.20 259.92L628.20 260.03L631.20 260.14L634.20 260.24L637.20 260.34L640.20 260.44L643.20 260.54L646.20 260.63L649.20 260.72L652.20 260.82L655.20 260.90L658.20 260.99L661.20 261.07L664.20 261.15L667.20 261.23L670.20 261.32L673.20 261.40L676.20 261.49L679.20 261.58L682.20 261.68L685.20 261.78L688.20 261.88L691.20 261.99L694.20 262.09L697.20 262.20L700.20 262.31L703.20 262.41L706.20 262.52L709.20 262.63L712.20 262.74L715.20 262.85L718.20 262.96L721.20 263.07L724.20 263.18L727.20 263.29L730.20 263.40L733.20 263.51L736.20 263.63L739.20 263.74L740.90 263.80" fill="none" stroke="#000" stroke-opacity="0.5" stroke-width="0.6"/>
<path d="M505.20 251.70L508.20 249.42L511.20 247.78L514.20 246.73L517.20 245.96L520.20 245.38L523.20 244.94L526.20 244.61L529.20 244.33L532.20 244.14L535.20 244.03L538.20 243.97L541.20 243.94L544.20 243.90L547.20 243.86L550.20 243.84L553.20 243.84L556.20 243.86L559.20 243.89L562.20 243.95L565.20 244.04L568.20 244.14L571.20 244.25L574.20 244.36L577.20 244.46L580.20 244.56L583.20 244.65L586.20 244.75L589.20 244.85L592.20 244.95L595.20 245.06L598.20 245.17L601.20 245.29L604.20 245.41L607.20 245.54L610.20 245.67L613.20 245.81L616.20 245.94L619.20 246.08L622.20 246.21L625.20 246.34L628.20 246.48L631.20 246.62L634.20 246.76L637.20 246.90L640.20 247.04L643.20 247.17L646.20 247.31L649.20 247.43L652.20 247.55L655.20 247.67L658.20 247.78L661.20 247.89L664.20 247.99L667.20 248.10L670.20 248.21L673.20 248.33L676.20 248.45L679.20 248.58L682.20 248.72L685.20 248.86L688.20 249.01L691.20 249.17L694.20 249.33L697.20 249.49L700.20 249.65L703.20 249.81L706.20 249.96L709.20 250.11L712.20 250.25L715.20 250.38L718.20 250.51L721.20 250.63L724.20 250.75L727.20 250.87L730.20 250.98L733.20 251.10L736.20 251.21L739.20 251.33L740.90 251.40" fill="none" stroke="#000" stroke-opacity="0.5" stroke-width="0.6"/>
<path d="M505.20 235.30L508.20 233.32L511.20 231.89L514.20 230.97L517.20 230.32L520.20 229.88L523.20 229.58L526.20 229.35L529.20 229.14L532.20 228.97L535.20 228.85L538.20 228.77L541.20 228.73L544.20 228.70L547.20 228.71L550.20 228.75L553.20 228.82L556.20 228.90L559.20 228.99L562.20 229.07L565.20 229.15L568.20 229.24L571.20 229.34L574.20 229.45L577.20 229.57L580.20 229.70L583.20 229.83L586.20 229.98L589.20 230.12L592.20 230.27L595.20 230.42L598.20 230.57L601.20 230.71L604.20 230.87L607.20 231.02L610.20 231.18L613.20 231.34L616.20 231.49L619.20 231.65L622.20 231.81L625.20 231.97L628.20 232.13L631.20 232.29L634.20 232.45L637.20 232.61L640.20 232.77L643.20 232.93L646.20 233.09L649.20 233.24L652.20 233.39L655.20 233.54L658.20 233.69L661.20 233.83L664.20 233.98L667.20 234.13L670.20 234.28L673.20 234.44L676.20 234.60L679.20 234.77L682.20 234.95L685.20 235.14L688.20 235.35L691.20 235.55L694.20 235.77L697.20 235.98L700.20 236.19L703.20 236.40L706.20 236.60L709.20 236.79L712.20 236.96L715.20 237.13L718.20 237.29L721.20 237.44L724.20 237.59L727.20 237.74L730.20 237.88L733.20 238.02L736.20 238.17L739.20 238.32L740.90 238.40" fill="none" stroke="#000" stroke-opacity="0.5" stroke-width="0.6"/>
<path d="M505.20 219.60L508.20 217.33L511.20 215.66L514.20 214.54L517.20 213.77L520.20 213.24L523.20 212.89L526.20 212.64L529.20 212.45L532.20 212.34L535.20 212.32L538.20 212.36L541.20 212.43L544.20 212.51L547.20 212.61L550.20 212.74L553.20 212.91L556.20 213.09L559.20 213.27L562.20 213.46L565.20 213.67L568.20 213.89L571.20 214.11L574.20 214.32L577.20 214.51L580.20 214.69L583.20 214.86L586.20 215.03L589.20 215.19L592.20 215.35L595.20 215.50L598.20 215.66L601.20 215.82L604.20 215.97L607.20 216.12L610.20 216.26L613.20 216.41L616.20 216.57L619.20 216.73L622.20 216.91L625.20 217.11L628.20 217.31L631.20 217.53L634.20 217.75L637.20 217.98L640.20 218.20L643.20 218.43L646.20 218.64L649.20 218.86L652.20 219.06L655.20 219.27L658.20 219.48L661.20 219.68L664.20 219.89L667.20 220.09L670.20 220.29L673.20 220.49L676.20 220.68L679.20 220.87L682.20 221.05L685.20 221.23L688.20 221.40L691.20 221.57L694.20 221.74L697.20 221.91L700.20 222.07L703.20 222.24L706.20 222.41L709.20 222.59L712.20 222.77L715.20 222.95L718.20 223.14L721.20 223.33L724.20 223.52L727.20 223.72L730.20 223.91L733.20 224.10L736.20 224.30L739.20 224.49L740.90 224.60" fill="none" stroke="#000" stroke-opacity="0.5" stroke-width="0.6"/>
<path d="M635.80 202.90L638.80 203.06L641.80 203.21L644.80 203.36L647.80 203.51L650.80 203.67L653.80 203.82L656.80 203.98L659.80 204.15L662.80 204.33L665.80 204.51L668.80 204.70L671.80 204.90L674.80 205.10L677.80 205.30L680.80 205.51L683.80 205.73L686.80 205.95L689.80 206.17L692.80 206.40L695.80 206.63L698.80 206.87L701.80 207.11L704.80 207.36L707.80 207.62L710.80 207.88L713.80 208.14L716.80 208.41L719.80 208.68L722.80 208.96L725.80 209.24L728.80 209.53L731.80 209.82L734.80 210.11L737.80 210.40L740.80 210.69L740.90 210.70" fill="none" stroke="#000" stroke-opacity="0.5" stroke-width="0.6"/>
</g>
<rect x="59.00" y="24.00" width="266.00" height="133.00" fill="none" stroke="#000" stroke-width="2.00"/>
<line x1="69.60" y1="154.00" x2="69.60" y2="156.00" stroke="#000" stroke-width="1.90"/>
<line x1="85.95" y1="155.00" x2="85.95" y2="156.00" stroke="#000" stroke-width="1.90"/>
<line x1="102.30" y1="155.00" x2="102.30" y2="156.00" stroke="#000" stroke-width="1.90"/>
<line x1="118.65" y1="155.00" x2="118.65" y2="156.00" stroke="#000" stroke-width="1.90"/>
<line x1="135.00" y1="155.00" x2="135.00" y2="156.00" stroke="#000" stroke-width="1.90"/>
<line x1="151.35" y1="154.00" x2="151.35" y2="156.00" stroke="#000" stroke-width="1.90"/>
<line x1="167.70" y1="155.00" x2="167.70" y2="156.00" stroke="#000" stroke-width="1.90"/>
<line x1="184.05" y1="155.00" x2="184.05" y2="156.00" stroke="#000" stroke-width="1.90"/>
<line x1="200.40" y1="155.00" x2="200.40" y2="156.00" stroke="#000" stroke-width="1.90"/>
<line x1="216.75" y1="155.00" x2="216.75" y2="156.00" stroke="#000" stroke-width="1.90"/>
<line x1="233.10" y1="154.00" x2="233.10" y2="156.00" stroke="#000" stroke-width="1.90"/>
<line x1="249.45" y1="155.00" x2="249.45" y2="156.00" stroke="#000" stroke-width="1.90"/>
<line x1="265.80" y1="155.00" x2="265.80" y2="156.00" stroke="#000" stroke-width="1.90"/>
<line x1="282.15" y1="155.00" x2="282.15" y2="156.00" stroke="#000" stroke-width="1.90"/>
<line x1="298.50" y1="155.00" x2="298.50" y2="156.00" stroke="#000" stroke-width="1.90"/>
<line x1="314.85" y1="154.00" x2="314.85" y2="156.00" stroke="#000" stroke-width="1.90"/>
<rect x="60.90" y="197.50" width="265.10" height="265.20" fill="none" stroke="#000" stroke-width="2.00"/>
<line x1="69.30" y1="458.10" x2="69.30" y2="461.70" stroke="#000" stroke-width="1.90"/>
<line x1="69.30" y1="198.50" x2="69.30" y2="202.10" stroke="#000" stroke-width="1.90"/>
<line x1="85.83" y1="459.80" x2="85.83" y2="461.70" stroke="#000" stroke-width="1.90"/>
<line x1="85.83" y1="198.50" x2="85.83" y2="200.40" stroke="#000" stroke-width="1.90"/>
<line x1="102.36" y1="459.80" x2="102.36" y2="461.70" stroke="#000" stroke-width="1.90"/>
<line x1="102.36" y1="198.50" x2="102.36" y2="200.40" stroke="#000" stroke-width="1.90"/>
<line x1="118.89" y1="459.80" x2="118.89" y2="461.70" stroke="#000" stroke-width="1.90"/>
<line x1="118.89" y1="198.50" x2="118.89" y2="200.40" stroke="#000" stroke-width="1.90"/>
<line x1="135.42" y1="459.80" x2="135.42" y2="461.70" stroke="#000" stroke-width="1.90"/>
<line x1="135.42" y1="198.50" x2="135.42" y2="200.40" stroke="#000" stroke-width="1.90"/>
<line x1="151.95" y1="458.10" x2="151.95" y2="461.70" stroke="#000" stroke-width="1.90"/>
<line x1="151.95" y1="198.50" x2="151.95" y2="202.10" stroke="#000" stroke-width="1.90"/>
<line x1="168.48" y1="459.80" x2="168.48" y2="461.70" stroke="#000" stroke-width="1.90"/>
<line x1="168.48" y1="198.50" x2="168.48" y2="200.40" stroke="#000" stroke-width="1.90"/>
<line x1="185.01" y1="459.80" x2="185.01" y2="461.70" stroke="#000" stroke-width="1.90"/>
<line x1="185.01" y1="198.50" x2="185.01" y2="200.40" stroke="#000" stroke-width="1.90"/>
<line x1="201.54" y1="459.80" x2="201.54" y2="461.70" stroke="#000" stroke-width="1.90"/>
<line x1="201.54" y1="198.50" x2="201.54" y2="200.40" stroke="#000" stroke-width="1.90"/>
<line x1="218.07" y1="459.80" x2="218.07" y2="461.70" stroke="#000" stroke-width="1.90"/>
<line x1="218.07" y1="198.50" x2="218.07" y2="200.40" stroke="#000" stroke-width="1.90"/>
<line x1="234.60" y1="458.10" x2="234.60" y2="461.70" stroke="#000" stroke-width="1.90"/>
<line x1="234.60" y1="198.50" x2="234.60" y2="202.10" stroke="#000" stroke-width="1.90"/>
<line x1="251.13" y1="459.80" x2="251.13" y2="461.70" stroke="#000" stroke-width="1.90"/>
<line x1="251.13" y1="198.50" x2="251.13" y2="200.40" stroke="#000" stroke-width="1.90"/>
<line x1="267.66" y1="459.80" x2="267.66" y2="461.70" stroke="#000" stroke-width="1.90"/>
<line x1="267.66" y1="198.50" x2="267.66" y2="200.40" stroke="#000" stroke-width="1.90"/>
<line x1="284.19" y1="459.80" x2="284.19" y2="461.70" stroke="#000" stroke-width="1.90"/>
<line x1="284.19" y1="198.50" x2="284.19" y2="200.40" stroke="#000" stroke-width="1.90"/>
<line x1="300.72" y1="459.80" x2="300.72" y2="461.70" stroke="#000" stroke-width="1.90"/>
<line x1="300.72" y1="198.50" x2="300.72" y2="200.40" stroke="#000" stroke-width="1.90"/>
<line x1="317.25" y1="458.10" x2="317.25" y2="461.70" stroke="#000" stroke-width="1.90"/>
<line x1="317.25" y1="198.50" x2="317.25" y2="202.10" stroke="#000" stroke-width="1.90"/>
<line x1="61.90" y1="456.90" x2="65.30" y2="456.90" stroke="#000" stroke-width="1.90"/>
<line x1="321.60" y1="456.90" x2="325.00" y2="456.90" stroke="#000" stroke-width="1.90"/>
<line x1="61.90" y1="444.18" x2="63.50" y2="444.18" stroke="#000" stroke-width="1.90"/>
<line x1="323.40" y1="444.18" x2="325.00" y2="444.18" stroke="#000" stroke-width="1.90"/>
<line x1="61.90" y1="431.46" x2="63.50" y2="431.46" stroke="#000" stroke-width="1.90"/>
<line x1="323.40" y1="431.46" x2="325.00" y2="431.46" stroke="#000" stroke-width="1.90"/>
<line x1="61.90" y1="418.74" x2="63.50" y2="418.74" stroke="#000" stroke-width="1.90"/>
<line x1="323.40" y1="418.74" x2="325.00" y2="418.74" stroke="#000" stroke-width="1.90"/>
<line x1="61.90" y1="406.02" x2="63.50" y2="406.02" stroke="#000" stroke-width="1.90"/>
<line x1="323.40" y1="406.02" x2="325.00" y2="406.02" stroke="#000" stroke-width="1.90"/>
<line x1="61.90" y1="393.30" x2="65.30" y2="393.30" stroke="#000" stroke-width="1.90"/>
<line x1="321.60" y1="393.30" x2="325.00" y2="393.30" stroke="#000" stroke-width="1.90"/>
<line x1="61.90" y1="380.58" x2="63.50" y2="380.58" stroke="#000" stroke-width="1.90"/>
<line x1="323.40" y1="380.58" x2="325.00" y2="380.58" stroke="#000" stroke-width="1.90"/>
<line x1="61.90" y1="367.86" x2="63.50" y2="367.86" stroke="#000" stroke-width="1.90"/>
<line x1="323.40" y1="367.86" x2="325.00" y2="367.86" stroke="#000" stroke-width="1.90"/>
<line x1="61.90" y1="355.14" x2="63.50" y2="355.14" stroke="#000" stroke-width="1.90"/>
<line x1="323.40" y1="355.14" x2="325.00" y2="355.14" stroke="#000" stroke-width="1.90"/>
<line x1="61.90" y1="342.42" x2="63.50" y2="342.42" stroke="#000" stroke-width="1.90"/>
<line x1="323.40" y1="342.42" x2="325.00" y2="342.42" stroke="#000" stroke-width="1.90"/>
<line x1="61.90" y1="329.70" x2="65.30" y2="329.70" stroke="#000" stroke-width="1.90"/>
<line x1="321.60" y1="329.70" x2="325.00" y2="329.70" stroke="#000" stroke-width="1.90"/>
<line x1="61.90" y1="316.98" x2="63.50" y2="316.98" stroke="#000" stroke-width="1.90"/>
<line x1="323.40" y1="316.98" x2="325.00" y2="316.98" stroke="#000" stroke-width="1.90"/>
<line x1="61.90" y1="304.26" x2="63.50" y2="304.26" stroke="#000" stroke-width="1.90"/>
<line x1="323.40" y1="304.26" x2="325.00" y2="304.26" stroke="#000" stroke-width="1.90"/>
<line x1="61.90" y1="291.54" x2="63.50" y2="291.54" stroke="#000" stroke-width="1.90"/>
<line x1="323.40" y1="291.54" x2="325.00" y2="291.54" stroke="#000" stroke-width="1.90"/>
<line x1="61.90" y1="278.82" x2="63.50" y2="278.82" stroke="#000" stroke-width="1.90"/>
<line x1="323.40" y1="278.82" x2="325.00" y2="278.82" stroke="#000" stroke-width="1.90"/>
<line x1="61.90" y1="266.10" x2="65.30" y2="266.10" stroke="#000" stroke-width="1.90"/>
<line x1="321.60" y1="266.10" x2="325.00" y2="266.10" stroke="#000" stroke-width="1.90"/>
<line x1="61.90" y1="253.38" x2="63.50" y2="253.38" stroke="#000" stroke-width="1.90"/>
<line x1="323.40" y1="253.38" x2="325.00" y2="253.38" stroke="#000" stroke-width="1.90"/>
<line x1="61.90" y1="240.66" x2="63.50" y2="240.66" stroke="#000" stroke-width="1.90"/>
<line x1="323.40" y1="240.66" x2="325.00" y2="240.66" stroke="#000" stroke-width="1.90"/>
<line x1="61.90" y1="227.94" x2="63.50" y2="227.94" stroke="#000" stroke-width="1.90"/>
<line x1="323.40" y1="227.94" x2="325.00" y2="227.94" stroke="#000" stroke-width="1.90"/>
<line x1="61.90" y1="215.22" x2="63.50" y2="215.22" stroke="#000" stroke-width="1.90"/>
<line x1="323.40" y1="215.22" x2="325.00" y2="215.22" stroke="#000" stroke-width="1.90"/>
<line x1="61.90" y1="202.50" x2="65.30" y2="202.50" stroke="#000" stroke-width="1.90"/>
<line x1="321.60" y1="202.50" x2="325.00" y2="202.50" stroke="#000" stroke-width="1.90"/>
<rect x="486.80" y="24.00" width="265.70" height="133.00" fill="none" stroke="#000" stroke-width="2.00"/>
<line x1="497.10" y1="154.00" x2="497.10" y2="156.00" stroke="#000" stroke-width="1.90"/>
<line x1="513.45" y1="155.00" x2="513.45" y2="156.00" stroke="#000" stroke-width="1.90"/>
<line x1="529.80" y1="155.00" x2="529.80" y2="156.00" stroke="#000" stroke-width="1.90"/>
<line x1="546.15" y1="155.00" x2="546.15" y2="156.00" stroke="#000" stroke-width="1.90"/>
<line x1="562.50" y1="155.00" x2="562.50" y2="156.00" stroke="#000" stroke-width="1.90"/>
<line x1="578.85" y1="154.00" x2="578.85" y2="156.00" stroke="#000" stroke-width="1.90"/>
<line x1="595.20" y1="155.00" x2="595.20" y2="156.00" stroke="#000" stroke-width="1.90"/>
<line x1="611.55" y1="155.00" x2="611.55" y2="156.00" stroke="#000" stroke-width="1.90"/>
<line x1="627.90" y1="155.00" x2="627.90" y2="156.00" stroke="#000" stroke-width="1.90"/>
<line x1="644.25" y1="155.00" x2="644.25" y2="156.00" stroke="#000" stroke-width="1.90"/>
<line x1="660.60" y1="154.00" x2="660.60" y2="156.00" stroke="#000" stroke-width="1.90"/>
<line x1="676.95" y1="155.00" x2="676.95" y2="156.00" stroke="#000" stroke-width="1.90"/>
<line x1="693.30" y1="155.00" x2="693.30" y2="156.00" stroke="#000" stroke-width="1.90"/>
<line x1="709.65" y1="155.00" x2="709.65" y2="156.00" stroke="#000" stroke-width="1.90"/>
<line x1="726.00" y1="155.00" x2="726.00" y2="156.00" stroke="#000" stroke-width="1.90"/>
<line x1="742.35" y1="154.00" x2="742.35" y2="156.00" stroke="#000" stroke-width="1.90"/>
<rect x="488.40" y="197.50" width="265.10" height="265.20" fill="none" stroke="#000" stroke-width="2.00"/>
<line x1="496.80" y1="458.10" x2="496.80" y2="461.70" stroke="#000" stroke-width="1.90"/>
<line x1="496.80" y1="198.50" x2="496.80" y2="202.10" stroke="#000" stroke-width="1.90"/>
<line x1="513.33" y1="459.80" x2="513.33" y2="461.70" stroke="#000" stroke-width="1.90"/>
<line x1="513.33" y1="198.50" x2="513.33" y2="200.40" stroke="#000" stroke-width="1.90"/>
<line x1="529.86" y1="459.80" x2="529.86" y2="461.70" stroke="#000" stroke-width="1.90"/>
<line x1="529.86" y1="198.50" x2="529.86" y2="200.40" stroke="#000" stroke-width="1.90"/>
<line x1="546.39" y1="459.80" x2="546.39" y2="461.70" stroke="#000" stroke-width="1.90"/>
<line x1="546.39" y1="198.50" x2="546.39" y2="200.40" stroke="#000" stroke-width="1.90"/>
<line x1="562.92" y1="459.80" x2="562.92" y2="461.70" stroke="#000" stroke-width="1.90"/>
<line x1="562.92" y1="198.50" x2="562.92" y2="200.40" stroke="#000" stroke-width="1.90"/>
<line x1="579.45" y1="458.10" x2="579.45" y2="461.70" stroke="#000" stroke-width="1.90"/>
<line x1="579.45" y1="198.50" x2="579.45" y2="202.10" stroke="#000" stroke-width="1.90"/>
<line x1="595.98" y1="459.80" x2="595.98" y2="461.70" stroke="#000" stroke-width="1.90"/>
<line x1="595.98" y1="198.50" x2="595.98" y2="200.40" stroke="#000" stroke-width="1.90"/>
<line x1="612.51" y1="459.80" x2="612.51" y2="461.70" stroke="#000" stroke-width="1.90"/>
<line x1="612.51" y1="198.50" x2="612.51" y2="200.40" stroke="#000" stroke-width="1.90"/>
<line x1="629.04" y1="459.80" x2="629.04" y2="461.70" stroke="#000" stroke-width="1.90"/>
<line x1="629.04" y1="198.50" x2="629.04" y2="200.40" stroke="#000" stroke-width="1.90"/>
<line x1="645.57" y1="459.80" x2="645.57" y2="461.70" stroke="#000" stroke-width="1.90"/>
<line x1="645.57" y1="198.50" x2="645.57" y2="200.40" stroke="#000" stroke-width="1.90"/>
<line x1="662.10" y1="458.10" x2="662.10" y2="461.70" stroke="#000" stroke-width="1.90"/>
<line x1="662.10" y1="198.50" x2="662.10" y2="202.10" stroke="#000" stroke-width="1.90"/>
<line x1="678.63" y1="459.80" x2="678.63" y2="461.70" stroke="#000" stroke-width="1.90"/>
<line x1="678.63" y1="198.50" x2="678.63" y2="200.40" stroke="#000" stroke-width="1.90"/>
<line x1="695.16" y1="459.80" x2="695.16" y2="461.70" stroke="#000" stroke-width="1.90"/>
<line x1="695.16" y1="198.50" x2="695.16" y2="200.40" stroke="#000" stroke-width="1.90"/>
<line x1="711.69" y1="459.80" x2="711.69" y2="461.70" stroke="#000" stroke-width="1.90"/>
<line x1="711.69" y1="198.50" x2="711.69" y2="200.40" stroke="#000" stroke-width="1.90"/>
<line x1="728.22" y1="459.80" x2="728.22" y2="461.70" stroke="#000" stroke-width="1.90"/>
<line x1="728.22" y1="198.50" x2="728.22" y2="200.40" stroke="#000" stroke-width="1.90"/>
<line x1="744.75" y1="458.10" x2="744.75" y2="461.70" stroke="#000" stroke-width="1.90"/>
<line x1="744.75" y1="198.50" x2="744.75" y2="202.10" stroke="#000" stroke-width="1.90"/>
<line x1="489.40" y1="456.90" x2="492.80" y2="456.90" stroke="#000" stroke-width="1.90"/>
<line x1="749.10" y1="456.90" x2="752.50" y2="456.90" stroke="#000" stroke-width="1.90"/>
<line x1="489.40" y1="444.18" x2="491.00" y2="444.18" stroke="#000" stroke-width="1.90"/>
<line x1="750.90" y1="444.18" x2="752.50" y2="444.18" stroke="#000" stroke-width="1.90"/>
<line x1="489.40" y1="431.46" x2="491.00" y2="431.46" stroke="#000" stroke-width="1.90"/>
<line x1="750.90" y1="431.46" x2="752.50" y2="431.46" stroke="#000" stroke-width="1.90"/>
<line x1="489.40" y1="418.74" x2="491.00" y2="418.74" stroke="#000" stroke-width="1.90"/>
<line x1="750.90" y1="418.74" x2="752.50" y2="418.74" stroke="#000" stroke-width="1.90"/>
<line x1="489.40" y1="406.02" x2="491.00" y2="406.02" stroke="#000" stroke-width="1.90"/>
<line x1="750.90" y1="406.02" x2="752.50" y2="406.02" stroke="#000" stroke-width="1.90"/>
<line x1="489.40" y1="393.30" x2="492.80" y2="393.30" stroke="#000" stroke-width="1.90"/>
<line x1="749.10" y1="393.30" x2="752.50" y2="393.30" stroke="#000" stroke-width="1.90"/>
<line x1="489.40" y1="380.58" x2="491.00" y2="380.58" stroke="#000" stroke-width="1.90"/>
<line x1="750.90" y1="380.58" x2="752.50" y2="380.58" stroke="#000" stroke-width="1.90"/>
<line x1="489.40" y1="367.86" x2="491.00" y2="367.86" stroke="#000" stroke-width="1.90"/>
<line x1="750.90" y1="367.86" x2="752.50" y2="367.86" stroke="#000" stroke-width="1.90"/>
<line x1="489.40" y1="355.14" x2="491.00" y2="355.14" stroke="#000" stroke-width="1.90"/>
<line x1="750.90" y1="355.14" x2="752.50" y2="355.14" stroke="#000" stroke-width="1.90"/>
<line x1="489.40" y1="342.42" x2="491.00" y2="342.42" stroke="#000" stroke-width="1.90"/>
<line x1="750.90" y1="342.42" x2="752.50" y2="342.42" stroke="#000" stroke-width="1.90"/>
<line x1="489.40" y1="329.70" x2="492.80" y2="329.70" stroke="#000" stroke-width="1.90"/>
<line x1="749.10" y1="329.70" x2="752.50" y2="329.70" stroke="#000" stroke-width="1.90"/>
<line x1="489.40" y1="316.98" x2="491.00" y2="316.98" stroke="#000" stroke-width="1.90"/>
<line x1="750.90" y1="316.98" x2="752.50" y2="316.98" stroke="#000" stroke-width="1.90"/>
<line x1="489.40" y1="304.26" x2="491.00" y2="304.26" stroke="#000" stroke-width="1.90"/>
<line x1="750.90" y1="304.26" x2="752.50" y2="304.26" stroke="#000" stroke-width="1.90"/>
<line x1="489.40" y1="291.54" x2="491.00" y2="291.54" stroke="#000" stroke-width="1.90"/>
<line x1="750.90" y1="291.54" x2="752.50" y2="291.54" stroke="#000" stroke-width="1.90"/>
<line x1="489.40" y1="278.82" x2="491.00" y2="278.82" stroke="#000" stroke-width="1.90"/>
<line x1="750.90" y1="278.82" x2="752.50" y2="278.82" stroke="#000" stroke-width="1.90"/>
<line x1="489.40" y1="266.10" x2="492.80" y2="266.10" stroke="#000" stroke-width="1.90"/>
<line x1="749.10" y1="266.10" x2="752.50" y2="266.10" stroke="#000" stroke-width="1.90"/>
<line x1="489.40" y1="253.38" x2="491.00" y2="253.38" stroke="#000" stroke-width="1.90"/>
<line x1="750.90" y1="253.38" x2="752.50" y2="253.38" stroke="#000" stroke-width="1.90"/>
<line x1="489.40" y1="240.66" x2="491.00" y2="240.66" stroke="#000" stroke-width="1.90"/>
<line x1="750.90" y1="240.66" x2="752.50" y2="240.66" stroke="#000" stroke-width="1.90"/>
<line x1="489.40" y1="227.94" x2="491.00" y2="227.94" stroke="#000" stroke-width="1.90"/>
<line x1="750.90" y1="227.94" x2="752.50" y2="227.94" stroke="#000" stroke-width="1.90"/>
<line x1="489.40" y1="215.22" x2="491.00" y2="215.22" stroke="#000" stroke-width="1.90"/>
<line x1="750.90" y1="215.22" x2="752.50" y2="215.22" stroke="#000" stroke-width="1.90"/>
<line x1="489.40" y1="202.50" x2="492.80" y2="202.50" stroke="#000" stroke-width="1.90"/>
<line x1="749.10" y1="202.50" x2="752.50" y2="202.50" stroke="#000" stroke-width="1.90"/>
<line x1="60.30" y1="62.80" x2="62.20" y2="62.80" stroke="#000" stroke-width="1.90"/>
<line x1="60.30" y1="141.10" x2="62.20" y2="141.10" stroke="#000" stroke-width="1.90"/>
<line x1="487.80" y1="42.90" x2="489.70" y2="42.90" stroke="#000" stroke-width="1.90"/>
<line x1="487.80" y1="137.70" x2="489.70" y2="137.70" stroke="#000" stroke-width="1.90"/>
<path d="M78.20 85.40C78.51 83.93 79.43 79.52 80.05 76.60C80.67 73.68 81.18 70.62 81.90 67.90C82.62 65.18 83.45 62.60 84.40 60.30C85.35 58.00 86.45 55.87 87.60 54.10C88.75 52.33 89.85 51.17 91.30 49.70C92.75 48.23 94.42 46.62 96.30 45.30C98.18 43.98 100.30 42.78 102.60 41.80C104.90 40.82 107.60 40.01 110.10 39.40C112.60 38.79 114.88 38.46 117.60 38.15C120.32 37.84 123.47 37.66 126.40 37.55C129.33 37.44 132.07 37.46 135.20 37.50C138.33 37.54 141.87 37.64 145.20 37.80C148.53 37.96 152.07 38.21 155.20 38.45C158.33 38.69 159.87 38.83 164.00 39.25C168.13 39.67 174.00 40.33 180.00 41.00C186.00 41.67 191.00 42.25 200.00 43.30C209.00 44.35 222.33 45.92 234.00 47.30C245.67 48.68 257.30 50.05 270.00 51.60C282.70 53.15 303.50 55.77 310.20 56.60" fill="none" stroke="#ff0000" stroke-width="1.55" stroke-linejoin="round"/>
<path d="M505.60 91.30C506.25 90.40 508.07 87.77 509.50 85.90C510.93 84.03 512.50 81.93 514.20 80.10C515.90 78.27 517.62 76.55 519.70 74.90C521.78 73.25 524.23 71.58 526.70 70.20C529.17 68.82 531.63 67.70 534.50 66.60C537.37 65.50 540.77 64.42 543.90 63.60C547.03 62.78 549.90 62.24 553.30 61.70C556.70 61.16 560.38 60.70 564.30 60.35C568.22 60.00 572.62 59.81 576.80 59.60C580.98 59.39 585.87 59.20 589.40 59.10C592.93 59.00 595.07 58.98 598.00 58.98C600.93 58.98 604.00 59.02 607.00 59.10C610.00 59.18 612.67 59.30 616.00 59.45C619.33 59.60 622.57 59.77 627.00 60.00C631.43 60.23 637.38 60.53 642.60 60.85C647.82 61.17 653.07 61.51 658.30 61.90C663.53 62.29 668.78 62.78 674.00 63.20C679.22 63.62 683.60 63.91 689.60 64.40C695.60 64.89 701.98 65.45 710.00 66.15C718.02 66.85 733.08 68.19 737.70 68.60" fill="none" stroke="#0000ff" stroke-width="1.55" stroke-linejoin="round"/>
<rect x="349.25" y="476.43" width="12.70" height="20.17" fill="rgb(244,207,220)"/>
<rect x="349.25" y="456.55" width="12.70" height="20.17" fill="rgb(240,193,209)"/>
<rect x="349.25" y="436.68" width="12.70" height="20.17" fill="rgb(237,179,198)"/>
<rect x="349.25" y="416.81" width="12.70" height="20.17" fill="rgb(233,165,188)"/>
<rect x="349.25" y="396.93" width="12.70" height="20.17" fill="rgb(226,149,174)"/>
<rect x="349.25" y="377.06" width="12.70" height="20.17" fill="rgb(219,133,159)"/>
<rect x="349.25" y="357.19" width="12.70" height="20.17" fill="rgb(211,116,145)"/>
<rect x="349.25" y="337.31" width="12.70" height="20.17" fill="rgb(204,99,130)"/>
<rect x="349.25" y="317.44" width="12.70" height="20.17" fill="rgb(195,87,117)"/>
<rect x="349.25" y="297.57" width="12.70" height="20.17" fill="rgb(186,74,104)"/>
<rect x="349.25" y="277.69" width="12.70" height="20.17" fill="rgb(177,61,91)"/>
<rect x="349.25" y="257.82" width="12.70" height="20.17" fill="rgb(168,49,79)"/>
<rect x="349.25" y="237.95" width="12.70" height="20.17" fill="rgb(158,42,71)"/>
<rect x="349.25" y="218.07" width="12.70" height="20.17" fill="rgb(148,35,62)"/>
<rect x="349.25" y="198.20" width="12.70" height="20.17" fill="rgb(138,28,53)"/>
<line x1="349.25" y1="476.43" x2="361.95" y2="476.43" stroke="rgba(0,0,0,0.55)" stroke-width="0.60"/>
<line x1="349.25" y1="456.55" x2="361.95" y2="456.55" stroke="rgba(0,0,0,0.55)" stroke-width="0.60"/>
<line x1="349.25" y1="436.68" x2="361.95" y2="436.68" stroke="rgba(0,0,0,0.55)" stroke-width="0.60"/>
<line x1="349.25" y1="416.81" x2="361.95" y2="416.81" stroke="rgba(0,0,0,0.55)" stroke-width="0.60"/>
<line x1="349.25" y1="396.93" x2="361.95" y2="396.93" stroke="rgba(0,0,0,0.55)" stroke-width="0.60"/>
<line x1="349.25" y1="377.06" x2="361.95" y2="377.06" stroke="rgba(0,0,0,0.55)" stroke-width="0.60"/>
<line x1="349.25" y1="357.19" x2="361.95" y2="357.19" stroke="rgba(0,0,0,0.55)" stroke-width="0.60"/>
<line x1="349.25" y1="337.31" x2="361.95" y2="337.31" stroke="rgba(0,0,0,0.55)" stroke-width="0.60"/>
<line x1="349.25" y1="317.44" x2="361.95" y2="317.44" stroke="rgba(0,0,0,0.55)" stroke-width="0.60"/>
<line x1="349.25" y1="297.57" x2="361.95" y2="297.57" stroke="rgba(0,0,0,0.55)" stroke-width="0.60"/>
<line x1="349.25" y1="277.69" x2="361.95" y2="277.69" stroke="rgba(0,0,0,0.55)" stroke-width="0.60"/>
<line x1="349.25" y1="257.82" x2="361.95" y2="257.82" stroke="rgba(0,0,0,0.55)" stroke-width="0.60"/>
<line x1="349.25" y1="237.95" x2="361.95" y2="237.95" stroke="rgba(0,0,0,0.55)" stroke-width="0.60"/>
<line x1="349.25" y1="218.07" x2="361.95" y2="218.07" stroke="rgba(0,0,0,0.55)" stroke-width="0.60"/>
<rect x="349.25" y="198.20" width="12.70" height="298.10" fill="none" stroke="#000" stroke-width="1.9"/>
<line x1="362.85" y1="456.55" x2="366.15" y2="456.55" stroke="#777" stroke-width="0.70"/>
<text x="369.15" y="462.00" font-family='"Liberation Mono", monospace' font-size="12.90" font-weight="normal" letter-spacing="1.71" text-anchor="start"  stroke="#000" stroke-width="0.36" stroke-linejoin="round">2.4</text>
<line x1="362.85" y1="416.81" x2="366.15" y2="416.81" stroke="#777" stroke-width="0.70"/>
<text x="369.15" y="422.26" font-family='"Liberation Mono", monospace' font-size="12.90" font-weight="normal" letter-spacing="1.71" text-anchor="start"  stroke="#000" stroke-width="0.36" stroke-linejoin="round">2.6</text>
<line x1="362.85" y1="377.06" x2="366.15" y2="377.06" stroke="#777" stroke-width="0.70"/>
<text x="369.15" y="382.51" font-family='"Liberation Mono", monospace' font-size="12.90" font-weight="normal" letter-spacing="1.71" text-anchor="start"  stroke="#000" stroke-width="0.36" stroke-linejoin="round">2.8</text>
<line x1="362.85" y1="337.31" x2="366.15" y2="337.31" stroke="#777" stroke-width="0.70"/>
<text x="369.15" y="342.76" font-family='"Liberation Mono", monospace' font-size="12.90" font-weight="normal" letter-spacing="1.71" text-anchor="start"  stroke="#000" stroke-width="0.36" stroke-linejoin="round">3.O</text>
<line x1="362.85" y1="297.57" x2="366.15" y2="297.57" stroke="#777" stroke-width="0.70"/>
<text x="369.15" y="303.02" font-family='"Liberation Mono", monospace' font-size="12.90" font-weight="normal" letter-spacing="1.71" text-anchor="start"  stroke="#000" stroke-width="0.36" stroke-linejoin="round">3.2</text>
<line x1="362.85" y1="257.82" x2="366.15" y2="257.82" stroke="#777" stroke-width="0.70"/>
<text x="369.15" y="263.27" font-family='"Liberation Mono", monospace' font-size="12.90" font-weight="normal" letter-spacing="1.71" text-anchor="start"  stroke="#000" stroke-width="0.36" stroke-linejoin="round">3.4</text>
<line x1="362.85" y1="218.07" x2="366.15" y2="218.07" stroke="#777" stroke-width="0.70"/>
<text x="369.15" y="223.52" font-family='"Liberation Mono", monospace' font-size="12.90" font-weight="normal" letter-spacing="1.71" text-anchor="start"  stroke="#000" stroke-width="0.36" stroke-linejoin="round">3.6</text>
<rect x="776.75" y="477.67" width="12.70" height="18.93" fill="rgb(41,0,78)"/>
<rect x="776.75" y="459.04" width="12.70" height="18.93" fill="rgb(47,1,94)"/>
<rect x="776.75" y="440.41" width="12.70" height="18.93" fill="rgb(54,3,111)"/>
<rect x="776.75" y="421.77" width="12.70" height="18.93" fill="rgb(62,7,129)"/>
<rect x="776.75" y="403.14" width="12.70" height="18.93" fill="rgb(69,13,148)"/>
<rect x="776.75" y="384.51" width="12.70" height="18.93" fill="rgb(74,23,165)"/>
<rect x="776.75" y="365.88" width="12.70" height="18.93" fill="rgb(69,42,179)"/>
<rect x="776.75" y="347.25" width="12.70" height="18.93" fill="rgb(63,60,191)"/>
<rect x="776.75" y="328.62" width="12.70" height="18.93" fill="rgb(60,78,203)"/>
<rect x="776.75" y="309.99" width="12.70" height="18.93" fill="rgb(60,101,216)"/>
<rect x="776.75" y="291.36" width="12.70" height="18.93" fill="rgb(62,125,229)"/>
<rect x="776.75" y="272.73" width="12.70" height="18.93" fill="rgb(68,147,241)"/>
<rect x="776.75" y="254.09" width="12.70" height="18.93" fill="rgb(86,168,248)"/>
<rect x="776.75" y="235.46" width="12.70" height="18.93" fill="rgb(116,189,250)"/>
<rect x="776.75" y="216.83" width="12.70" height="18.93" fill="rgb(154,212,252)"/>
<rect x="776.75" y="198.20" width="12.70" height="18.93" fill="rgb(203,237,254)"/>
<line x1="776.75" y1="477.67" x2="789.45" y2="477.67" stroke="rgba(0,0,0,0.55)" stroke-width="0.60"/>
<line x1="776.75" y1="459.04" x2="789.45" y2="459.04" stroke="rgba(0,0,0,0.55)" stroke-width="0.60"/>
<line x1="776.75" y1="440.41" x2="789.45" y2="440.41" stroke="rgba(0,0,0,0.55)" stroke-width="0.60"/>
<line x1="776.75" y1="421.77" x2="789.45" y2="421.77" stroke="rgba(0,0,0,0.55)" stroke-width="0.60"/>
<line x1="776.75" y1="403.14" x2="789.45" y2="403.14" stroke="rgba(0,0,0,0.55)" stroke-width="0.60"/>
<line x1="776.75" y1="384.51" x2="789.45" y2="384.51" stroke="rgba(0,0,0,0.55)" stroke-width="0.60"/>
<line x1="776.75" y1="365.88" x2="789.45" y2="365.88" stroke="rgba(0,0,0,0.55)" stroke-width="0.60"/>
<line x1="776.75" y1="347.25" x2="789.45" y2="347.25" stroke="rgba(0,0,0,0.55)" stroke-width="0.60"/>
<line x1="776.75" y1="328.62" x2="789.45" y2="328.62" stroke="rgba(0,0,0,0.55)" stroke-width="0.60"/>
<line x1="776.75" y1="309.99" x2="789.45" y2="309.99" stroke="rgba(0,0,0,0.55)" stroke-width="0.60"/>
<line x1="776.75" y1="291.36" x2="789.45" y2="291.36" stroke="rgba(0,0,0,0.55)" stroke-width="0.60"/>
<line x1="776.75" y1="272.73" x2="789.45" y2="272.73" stroke="rgba(0,0,0,0.55)" stroke-width="0.60"/>
<line x1="776.75" y1="254.09" x2="789.45" y2="254.09" stroke="rgba(0,0,0,0.55)" stroke-width="0.60"/>
<line x1="776.75" y1="235.46" x2="789.45" y2="235.46" stroke="rgba(0,0,0,0.55)" stroke-width="0.60"/>
<line x1="776.75" y1="216.83" x2="789.45" y2="216.83" stroke="rgba(0,0,0,0.55)" stroke-width="0.60"/>
<rect x="776.75" y="198.20" width="12.70" height="298.10" fill="none" stroke="#000" stroke-width="1.9"/>
<line x1="790.35" y1="477.67" x2="793.65" y2="477.67" stroke="#777" stroke-width="0.70"/>
<text x="796.65" y="483.12" font-family='"Liberation Mono", monospace' font-size="12.90" font-weight="normal" letter-spacing="1.71" text-anchor="start"  stroke="#000" stroke-width="0.36" stroke-linejoin="round">O.6</text>
<line x1="790.35" y1="440.41" x2="793.65" y2="440.41" stroke="#777" stroke-width="0.70"/>
<text x="796.65" y="445.86" font-family='"Liberation Mono", monospace' font-size="12.90" font-weight="normal" letter-spacing="1.71" text-anchor="start"  stroke="#000" stroke-width="0.36" stroke-linejoin="round">O.8</text>
<line x1="790.35" y1="403.14" x2="793.65" y2="403.14" stroke="#777" stroke-width="0.70"/>
<text x="796.65" y="408.59" font-family='"Liberation Mono", monospace' font-size="12.90" font-weight="normal" letter-spacing="1.71" text-anchor="start"  stroke="#000" stroke-width="0.36" stroke-linejoin="round">1.O</text>
<line x1="790.35" y1="365.88" x2="793.65" y2="365.88" stroke="#777" stroke-width="0.70"/>
<text x="796.65" y="371.33" font-family='"Liberation Mono", monospace' font-size="12.90" font-weight="normal" letter-spacing="1.71" text-anchor="start"  stroke="#000" stroke-width="0.36" stroke-linejoin="round">1.2</text>
<line x1="790.35" y1="328.62" x2="793.65" y2="328.62" stroke="#777" stroke-width="0.70"/>
<text x="796.65" y="334.07" font-family='"Liberation Mono", monospace' font-size="12.90" font-weight="normal" letter-spacing="1.71" text-anchor="start"  stroke="#000" stroke-width="0.36" stroke-linejoin="round">1.4</text>
<line x1="790.35" y1="291.36" x2="793.65" y2="291.36" stroke="#777" stroke-width="0.70"/>
<text x="796.65" y="296.81" font-family='"Liberation Mono", monospace' font-size="12.90" font-weight="normal" letter-spacing="1.71" text-anchor="start"  stroke="#000" stroke-width="0.36" stroke-linejoin="round">1.6</text>
<line x1="790.35" y1="254.09" x2="793.65" y2="254.09" stroke="#777" stroke-width="0.70"/>
<text x="796.65" y="259.54" font-family='"Liberation Mono", monospace' font-size="12.90" font-weight="normal" letter-spacing="1.71" text-anchor="start"  stroke="#000" stroke-width="0.36" stroke-linejoin="round">1.8</text>
<line x1="790.35" y1="216.83" x2="793.65" y2="216.83" stroke="#777" stroke-width="0.70"/>
<text x="796.65" y="222.28" font-family='"Liberation Mono", monospace' font-size="12.90" font-weight="normal" letter-spacing="1.71" text-anchor="start"  stroke="#000" stroke-width="0.36" stroke-linejoin="round">2.O</text>
<text x="70.91" y="176.60" font-family='"Liberation Mono", monospace' font-size="12.90" font-weight="normal" letter-spacing="1.71" text-anchor="middle"  stroke="#000" stroke-width="0.36" stroke-linejoin="round">−<tspan dx="1.4">O.5</tspan></text>
<text x="70.50" y="482.00" font-family='"Liberation Mono", monospace' font-size="12.90" font-weight="normal" letter-spacing="1.71" text-anchor="middle"  stroke="#000" stroke-width="0.36" stroke-linejoin="round">−<tspan dx="1.4">O.5</tspan></text>
<text x="152.10" y="176.60" font-family='"Liberation Mono", monospace' font-size="12.90" font-weight="normal" letter-spacing="1.71" text-anchor="middle"  stroke="#000" stroke-width="0.36" stroke-linejoin="round">O.O</text>
<text x="152.60" y="482.00" font-family='"Liberation Mono", monospace' font-size="12.90" font-weight="normal" letter-spacing="1.71" text-anchor="middle"  stroke="#000" stroke-width="0.36" stroke-linejoin="round">O.O</text>
<text x="233.85" y="176.60" font-family='"Liberation Mono", monospace' font-size="12.90" font-weight="normal" letter-spacing="1.71" text-anchor="middle"  stroke="#000" stroke-width="0.36" stroke-linejoin="round">O.5</text>
<text x="235.25" y="482.00" font-family='"Liberation Mono", monospace' font-size="12.90" font-weight="normal" letter-spacing="1.71" text-anchor="middle"  stroke="#000" stroke-width="0.36" stroke-linejoin="round">O.5</text>
<text x="315.61" y="176.60" font-family='"Liberation Mono", monospace' font-size="12.90" font-weight="normal" letter-spacing="1.71" text-anchor="middle"  stroke="#000" stroke-width="0.36" stroke-linejoin="round">1.O</text>
<text x="317.91" y="482.00" font-family='"Liberation Mono", monospace' font-size="12.90" font-weight="normal" letter-spacing="1.71" text-anchor="middle"  stroke="#000" stroke-width="0.36" stroke-linejoin="round">1.O</text>
<text x="58.71" y="463.20" font-family='"Liberation Mono", monospace' font-size="12.90" font-weight="normal" letter-spacing="1.71" text-anchor="end"  stroke="#000" stroke-width="0.36" stroke-linejoin="round">O.O</text>
<text x="58.71" y="399.60" font-family='"Liberation Mono", monospace' font-size="12.90" font-weight="normal" letter-spacing="1.71" text-anchor="end"  stroke="#000" stroke-width="0.36" stroke-linejoin="round">O.1</text>
<text x="58.71" y="336.00" font-family='"Liberation Mono", monospace' font-size="12.90" font-weight="normal" letter-spacing="1.71" text-anchor="end"  stroke="#000" stroke-width="0.36" stroke-linejoin="round">O.2</text>
<text x="58.71" y="272.40" font-family='"Liberation Mono", monospace' font-size="12.90" font-weight="normal" letter-spacing="1.71" text-anchor="end"  stroke="#000" stroke-width="0.36" stroke-linejoin="round">O.3</text>
<text x="58.71" y="208.80" font-family='"Liberation Mono", monospace' font-size="12.90" font-weight="normal" letter-spacing="1.71" text-anchor="end"  stroke="#000" stroke-width="0.36" stroke-linejoin="round">O.4</text>
<text x="498.41" y="176.60" font-family='"Liberation Mono", monospace' font-size="12.90" font-weight="normal" letter-spacing="1.71" text-anchor="middle"  stroke="#000" stroke-width="0.36" stroke-linejoin="round">−<tspan dx="1.4">O.5</tspan></text>
<text x="498.01" y="482.00" font-family='"Liberation Mono", monospace' font-size="12.90" font-weight="normal" letter-spacing="1.71" text-anchor="middle"  stroke="#000" stroke-width="0.36" stroke-linejoin="round">−<tspan dx="1.4">O.5</tspan></text>
<text x="579.61" y="176.60" font-family='"Liberation Mono", monospace' font-size="12.90" font-weight="normal" letter-spacing="1.71" text-anchor="middle"  stroke="#000" stroke-width="0.36" stroke-linejoin="round">O.O</text>
<text x="580.11" y="482.00" font-family='"Liberation Mono", monospace' font-size="12.90" font-weight="normal" letter-spacing="1.71" text-anchor="middle"  stroke="#000" stroke-width="0.36" stroke-linejoin="round">O.O</text>
<text x="661.36" y="176.60" font-family='"Liberation Mono", monospace' font-size="12.90" font-weight="normal" letter-spacing="1.71" text-anchor="middle"  stroke="#000" stroke-width="0.36" stroke-linejoin="round">O.5</text>
<text x="662.76" y="482.00" font-family='"Liberation Mono", monospace' font-size="12.90" font-weight="normal" letter-spacing="1.71" text-anchor="middle"  stroke="#000" stroke-width="0.36" stroke-linejoin="round">O.5</text>
<text x="743.11" y="176.60" font-family='"Liberation Mono", monospace' font-size="12.90" font-weight="normal" letter-spacing="1.71" text-anchor="middle"  stroke="#000" stroke-width="0.36" stroke-linejoin="round">1.O</text>
<text x="745.41" y="482.00" font-family='"Liberation Mono", monospace' font-size="12.90" font-weight="normal" letter-spacing="1.71" text-anchor="middle"  stroke="#000" stroke-width="0.36" stroke-linejoin="round">1.O</text>
<text x="486.21" y="463.20" font-family='"Liberation Mono", monospace' font-size="12.90" font-weight="normal" letter-spacing="1.71" text-anchor="end"  stroke="#000" stroke-width="0.36" stroke-linejoin="round">O.O</text>
<text x="486.21" y="399.60" font-family='"Liberation Mono", monospace' font-size="12.90" font-weight="normal" letter-spacing="1.71" text-anchor="end"  stroke="#000" stroke-width="0.36" stroke-linejoin="round">O.1</text>
<text x="486.21" y="336.00" font-family='"Liberation Mono", monospace' font-size="12.90" font-weight="normal" letter-spacing="1.71" text-anchor="end"  stroke="#000" stroke-width="0.36" stroke-linejoin="round">O.2</text>
<text x="486.21" y="272.40" font-family='"Liberation Mono", monospace' font-size="12.90" font-weight="normal" letter-spacing="1.71" text-anchor="end"  stroke="#000" stroke-width="0.36" stroke-linejoin="round">O.3</text>
<text x="486.21" y="208.80" font-family='"Liberation Mono", monospace' font-size="12.90" font-weight="normal" letter-spacing="1.71" text-anchor="end"  stroke="#000" stroke-width="0.36" stroke-linejoin="round">O.4</text>
<text x="57.31" y="69.00" font-family='"Liberation Mono", monospace' font-size="12.90" font-weight="normal" letter-spacing="1.71" text-anchor="end"  stroke="#000" stroke-width="0.36" stroke-linejoin="round">2.4</text>
<text x="57.31" y="146.60" font-family='"Liberation Mono", monospace' font-size="12.90" font-weight="normal" letter-spacing="1.71" text-anchor="end"  stroke="#000" stroke-width="0.36" stroke-linejoin="round">2.3</text>
<text x="485.31" y="48.90" font-family='"Liberation Mono", monospace' font-size="12.90" font-weight="normal" letter-spacing="1.71" text-anchor="end"  stroke="#000" stroke-width="0.36" stroke-linejoin="round">1.6</text>
<text x="485.31" y="143.60" font-family='"Liberation Mono", monospace' font-size="12.90" font-weight="normal" letter-spacing="1.71" text-anchor="end"  stroke="#000" stroke-width="0.36" stroke-linejoin="round">1.5</text>
<text transform="translate(66.80 18.00) scale(1.130 1)" text-anchor="middle" font-family='"Liberation Mono", monospace' font-size="13.40" font-weight="bold">m</text><text transform="translate(75.94 18.00) scale(1.130 1)" text-anchor="middle" font-family='"Liberation Mono", monospace' font-size="13.40" font-weight="bold">o</text><text transform="translate(85.08 18.00) scale(1.130 1)" text-anchor="middle" font-family='"Liberation Mono", monospace' font-size="13.40" font-weight="bold">n</text><text transform="translate(94.22 18.00) scale(1.130 1)" text-anchor="middle" font-family='"Liberation Mono", monospace' font-size="13.40" font-weight="bold">o</text><text transform="translate(103.36 18.00) scale(1.130 1)" text-anchor="middle" font-family='"Liberation Mono", monospace' font-size="13.40" font-weight="bold">p</text><text transform="translate(112.50 18.00) scale(1.130 1)" text-anchor="middle" font-family='"Liberation Mono", monospace' font-size="13.40" font-weight="bold">o</text><text transform="translate(121.64 18.00) scale(1.130 1)" text-anchor="middle" font-family='"Liberation Mono", monospace' font-size="13.40" font-weight="bold">l</text><text transform="translate(130.78 18.00) scale(1.130 1)" text-anchor="middle" font-family='"Liberation Mono", monospace' font-size="13.40" font-weight="bold">e</text><text transform="translate(150.10 18.00) scale(1.130 1)" text-anchor="middle" font-family='"Liberation Mono", monospace' font-size="13.40" font-weight="bold">Q</text><text transform="translate(159.20 18.00) scale(1.130 1)" text-anchor="middle" font-family='"Liberation Mono", monospace' font-size="13.40" font-weight="bold">N</text><text transform="translate(168.80 18.00) scale(1.130 1)" text-anchor="middle" font-family='"Liberation Mono", monospace' font-size="13.40" font-weight="bold">M</text><text x="186.00" y="18.40" text-anchor="middle" font-family='"Liberation Serif", serif' font-size="15.50">(</text><text transform="translate(193.00 18.00) scale(1.130 1)" text-anchor="middle" font-family='"Liberation Mono", monospace' font-size="13.40" font-weight="bold">n</text><text transform="translate(203.20 18.00) scale(1.130 1)" text-anchor="middle" font-family='"Liberation Mono", monospace' font-size="13.40" font-weight="bold">=</text><text x="212.00" y="18.00" text-anchor="middle" font-family='"Liberation Mono", monospace' font-size="12.90" stroke="#000" stroke-width="0.36">O</text><text x="218.80" y="18.40" text-anchor="middle" font-family='"Liberation Serif", serif' font-size="15.50">)</text><text transform="translate(226.60 18.00) scale(1.130 1)" text-anchor="middle" font-family='"Liberation Mono", monospace' font-size="13.40" font-weight="bold">:</text><text transform="translate(245.70 18.00) scale(1.130 1)" text-anchor="middle" font-family='"Liberation Mono", monospace' font-size="13.40" font-weight="bold">R</text><text transform="translate(254.40 18.00) scale(1.130 1)" text-anchor="middle" font-family='"Liberation Mono", monospace' font-size="13.40" font-weight="bold">e</text><text x="261.10" y="18.40" text-anchor="middle" font-family='"Liberation Serif", serif' font-size="15.50">[</text><text x="268.80" y="18.00" text-anchor="middle" font-family='"Liberation Serif", serif' font-size="14.50" font-style="italic">ω</text><text transform="translate(279.00 18.00) scale(1.130 1)" text-anchor="middle" font-family='"Liberation Mono", monospace' font-size="13.40" font-weight="bold">r</text><text transform="translate(286.90 21.40) scale(1.130 1)" text-anchor="middle" font-family='"Liberation Mono", monospace' font-size="10.00" font-weight="bold" font-style="italic">g</text><text x="292.80" y="18.40" text-anchor="middle" font-family='"Liberation Serif", serif' font-size="15.50">]</text><text x="299.70" y="19.00" text-anchor="middle" font-family='"Liberation Sans", sans-serif' font-size="17.00">×</text><text x="308.70" y="18.00" text-anchor="middle" font-family='"Liberation Mono", monospace' font-size="12.90" stroke="#000" stroke-width="0.36">1</text><text x="317.60" y="18.00" text-anchor="middle" font-family='"Liberation Mono", monospace' font-size="12.90" stroke="#000" stroke-width="0.36">O</text>
<text transform="translate(488.70 18.00) scale(1.130 1)" text-anchor="middle" font-family='"Liberation Mono", monospace' font-size="13.40" font-weight="bold">m</text><text transform="translate(497.84 18.00) scale(1.130 1)" text-anchor="middle" font-family='"Liberation Mono", monospace' font-size="13.40" font-weight="bold">o</text><text transform="translate(506.98 18.00) scale(1.130 1)" text-anchor="middle" font-family='"Liberation Mono", monospace' font-size="13.40" font-weight="bold">n</text><text transform="translate(516.12 18.00) scale(1.130 1)" text-anchor="middle" font-family='"Liberation Mono", monospace' font-size="13.40" font-weight="bold">o</text><text transform="translate(525.26 18.00) scale(1.130 1)" text-anchor="middle" font-family='"Liberation Mono", monospace' font-size="13.40" font-weight="bold">p</text><text transform="translate(534.40 18.00) scale(1.130 1)" text-anchor="middle" font-family='"Liberation Mono", monospace' font-size="13.40" font-weight="bold">o</text><text transform="translate(543.54 18.00) scale(1.130 1)" text-anchor="middle" font-family='"Liberation Mono", monospace' font-size="13.40" font-weight="bold">l</text><text transform="translate(552.68 18.00) scale(1.130 1)" text-anchor="middle" font-family='"Liberation Mono", monospace' font-size="13.40" font-weight="bold">e</text><text transform="translate(572.00 18.00) scale(1.130 1)" text-anchor="middle" font-family='"Liberation Mono", monospace' font-size="13.40" font-weight="bold">Q</text><text transform="translate(581.10 18.00) scale(1.130 1)" text-anchor="middle" font-family='"Liberation Mono", monospace' font-size="13.40" font-weight="bold">N</text><text transform="translate(590.70 18.00) scale(1.130 1)" text-anchor="middle" font-family='"Liberation Mono", monospace' font-size="13.40" font-weight="bold">M</text><text x="607.90" y="18.40" text-anchor="middle" font-family='"Liberation Serif", serif' font-size="15.50">(</text><text transform="translate(614.90 18.00) scale(1.130 1)" text-anchor="middle" font-family='"Liberation Mono", monospace' font-size="13.40" font-weight="bold">n</text><text transform="translate(625.10 18.00) scale(1.130 1)" text-anchor="middle" font-family='"Liberation Mono", monospace' font-size="13.40" font-weight="bold">=</text><text x="633.90" y="18.00" text-anchor="middle" font-family='"Liberation Mono", monospace' font-size="12.90" stroke="#000" stroke-width="0.36">O</text><text x="640.70" y="18.40" text-anchor="middle" font-family='"Liberation Serif", serif' font-size="15.50">)</text><text transform="translate(648.50 18.00) scale(1.130 1)" text-anchor="middle" font-family='"Liberation Mono", monospace' font-size="13.40" font-weight="bold">:</text><text transform="translate(667.00 18.00) scale(1.130 1)" text-anchor="middle" font-family='"Liberation Mono", monospace' font-size="13.40" font-weight="bold">−</text><text transform="translate(676.70 18.00) scale(1.130 1)" text-anchor="middle" font-family='"Liberation Mono", monospace' font-size="13.40" font-weight="bold">I</text><text transform="translate(685.70 18.00) scale(1.130 1)" text-anchor="middle" font-family='"Liberation Mono", monospace' font-size="13.40" font-weight="bold">m</text><text x="694.30" y="18.40" text-anchor="middle" font-family='"Liberation Serif", serif' font-size="15.50">[</text><text x="702.00" y="18.00" text-anchor="middle" font-family='"Liberation Serif", serif' font-size="14.50" font-style="italic">ω</text><text transform="translate(712.20 18.00) scale(1.130 1)" text-anchor="middle" font-family='"Liberation Mono", monospace' font-size="13.40" font-weight="bold">r</text><text transform="translate(720.10 21.40) scale(1.130 1)" text-anchor="middle" font-family='"Liberation Mono", monospace' font-size="10.00" font-weight="bold" font-style="italic">g</text><text x="726.00" y="18.40" text-anchor="middle" font-family='"Liberation Serif", serif' font-size="15.50">]</text><text x="732.90" y="19.00" text-anchor="middle" font-family='"Liberation Sans", sans-serif' font-size="17.00">×</text><text x="741.90" y="18.00" text-anchor="middle" font-family='"Liberation Mono", monospace' font-size="12.90" stroke="#000" stroke-width="0.36">1</text><text x="750.80" y="18.00" text-anchor="middle" font-family='"Liberation Mono", monospace' font-size="12.90" stroke="#000" stroke-width="0.36">O</text>
<g transform="translate(16.70 91.40) rotate(-90) translate(-40.10 0.00)"><text transform="translate(4.70 0.00) scale(1.130 1)" text-anchor="middle" font-family='"Liberation Mono", monospace' font-size="13.40" font-weight="bold">R</text><text transform="translate(13.40 0.00) scale(1.130 1)" text-anchor="middle" font-family='"Liberation Mono", monospace' font-size="13.40" font-weight="bold">e</text><text x="20.10" y="0.40" text-anchor="middle" font-family='"Liberation Serif", serif' font-size="15.50">[</text><text x="27.80" y="0.00" text-anchor="middle" font-family='"Liberation Serif", serif' font-size="14.50" font-style="italic">ω</text><text transform="translate(38.00 0.00) scale(1.130 1)" text-anchor="middle" font-family='"Liberation Mono", monospace' font-size="13.40" font-weight="bold">r</text><text transform="translate(45.90 3.40) scale(1.130 1)" text-anchor="middle" font-family='"Liberation Mono", monospace' font-size="10.00" font-weight="bold" font-style="italic">g</text><text x="51.80" y="0.40" text-anchor="middle" font-family='"Liberation Serif", serif' font-size="15.50">]</text><text x="58.70" y="1.00" text-anchor="middle" font-family='"Liberation Sans", sans-serif' font-size="17.00">×</text><text x="67.70" y="0.00" text-anchor="middle" font-family='"Liberation Mono", monospace' font-size="12.90" stroke="#000" stroke-width="0.36">1</text><text x="76.60" y="0.00" text-anchor="middle" font-family='"Liberation Mono", monospace' font-size="12.90" stroke="#000" stroke-width="0.36">O</text></g>
<g transform="translate(443.20 91.00) rotate(-90) translate(-45.70 0.00)"><text transform="translate(4.00 0.00) scale(1.130 1)" text-anchor="middle" font-family='"Liberation Mono", monospace' font-size="13.40" font-weight="bold">−</text><text transform="translate(13.70 0.00) scale(1.130 1)" text-anchor="middle" font-family='"Liberation Mono", monospace' font-size="13.40" font-weight="bold">I</text><text transform="translate(22.70 0.00) scale(1.130 1)" text-anchor="middle" font-family='"Liberation Mono", monospace' font-size="13.40" font-weight="bold">m</text><text x="31.30" y="0.40" text-anchor="middle" font-family='"Liberation Serif", serif' font-size="15.50">[</text><text x="39.00" y="0.00" text-anchor="middle" font-family='"Liberation Serif", serif' font-size="14.50" font-style="italic">ω</text><text transform="translate(49.20 0.00) scale(1.130 1)" text-anchor="middle" font-family='"Liberation Mono", monospace' font-size="13.40" font-weight="bold">r</text><text transform="translate(57.10 3.40) scale(1.130 1)" text-anchor="middle" font-family='"Liberation Mono", monospace' font-size="10.00" font-weight="bold" font-style="italic">g</text><text x="63.00" y="0.40" text-anchor="middle" font-family='"Liberation Serif", serif' font-size="15.50">]</text><text x="69.90" y="1.00" text-anchor="middle" font-family='"Liberation Sans", sans-serif' font-size="17.00">×</text><text x="78.90" y="0.00" text-anchor="middle" font-family='"Liberation Mono", monospace' font-size="12.90" stroke="#000" stroke-width="0.36">1</text><text x="87.80" y="0.00" text-anchor="middle" font-family='"Liberation Mono", monospace' font-size="12.90" stroke="#000" stroke-width="0.36">O</text></g>
<text transform="translate(249.40 147.30) scale(1.130 1)" text-anchor="middle" font-family='"Liberation Mono", monospace' font-size="12.00" font-weight="bold">@</text><text x="259.80" y="147.30" text-anchor="middle" font-family='"Liberation Serif", serif' font-size="14.50" font-style="italic">μ</text><text transform="translate(269.10 147.30) scale(1.130 1)" text-anchor="middle" font-family='"Liberation Mono", monospace' font-size="13.40" font-weight="bold">r</text><text transform="translate(277.30 150.70) scale(1.130 1)" text-anchor="middle" font-family='"Liberation Mono", monospace' font-size="10.00" font-weight="bold" font-style="italic">g</text><text transform="translate(285.20 147.30) scale(1.130 1)" text-anchor="middle" font-family='"Liberation Mono", monospace' font-size="13.40" font-weight="bold">=</text><text x="294.20" y="147.30" text-anchor="middle" font-family='"Liberation Mono", monospace' font-size="12.90" stroke="#000" stroke-width="0.36">O</text><text x="303.40" y="147.30" text-anchor="middle" font-family='"Liberation Mono", monospace' font-size="12.90" stroke="#000" stroke-width="0.36">.</text><text x="312.60" y="147.30" text-anchor="middle" font-family='"Liberation Mono", monospace' font-size="12.90" stroke="#000" stroke-width="0.36">2</text>
<g transform="translate(17.30 330.00) rotate(-90) translate(-12.50 0.00)"><text x="4.00" y="0.00" text-anchor="middle" font-family='"Liberation Serif", serif' font-size="14.50" font-style="italic">μ</text><text transform="translate(13.30 0.00) scale(1.130 1)" text-anchor="middle" font-family='"Liberation Mono", monospace' font-size="13.40" font-weight="bold">r</text><text transform="translate(21.50 3.40) scale(1.130 1)" text-anchor="middle" font-family='"Liberation Mono", monospace' font-size="10.00" font-weight="bold" font-style="italic">g</text></g>
<text x="185.80" y="511.00" font-family='"Liberation Sans", sans-serif' font-style="italic" font-weight="bold" font-size="14.5">g<tspan font-style="normal" font-size="9" dy="1.8">6</tspan></text>
<text transform="translate(676.90 147.30) scale(1.130 1)" text-anchor="middle" font-family='"Liberation Mono", monospace' font-size="12.00" font-weight="bold">@</text><text x="687.30" y="147.30" text-anchor="middle" font-family='"Liberation Serif", serif' font-size="14.50" font-style="italic">μ</text><text transform="translate(696.60 147.30) scale(1.130 1)" text-anchor="middle" font-family='"Liberation Mono", monospace' font-size="13.40" font-weight="bold">r</text><text transform="translate(704.80 150.70) scale(1.130 1)" text-anchor="middle" font-family='"Liberation Mono", monospace' font-size="10.00" font-weight="bold" font-style="italic">g</text><text transform="translate(712.70 147.30) scale(1.130 1)" text-anchor="middle" font-family='"Liberation Mono", monospace' font-size="13.40" font-weight="bold">=</text><text x="721.70" y="147.30" text-anchor="middle" font-family='"Liberation Mono", monospace' font-size="12.90" stroke="#000" stroke-width="0.36">O</text><text x="730.90" y="147.30" text-anchor="middle" font-family='"Liberation Mono", monospace' font-size="12.90" stroke="#000" stroke-width="0.36">.</text><text x="740.10" y="147.30" text-anchor="middle" font-family='"Liberation Mono", monospace' font-size="12.90" stroke="#000" stroke-width="0.36">2</text>
<g transform="translate(444.80 330.00) rotate(-90) translate(-12.50 0.00)"><text x="4.00" y="0.00" text-anchor="middle" font-family='"Liberation Serif", serif' font-size="14.50" font-style="italic">μ</text><text transform="translate(13.30 0.00) scale(1.130 1)" text-anchor="middle" font-family='"Liberation Mono", monospace' font-size="13.40" font-weight="bold">r</text><text transform="translate(21.50 3.40) scale(1.130 1)" text-anchor="middle" font-family='"Liberation Mono", monospace' font-size="10.00" font-weight="bold" font-style="italic">g</text></g>
<text x="613.30" y="511.00" font-family='"Liberation Sans", sans-serif' font-style="italic" font-weight="bold" font-size="14.5">g<tspan font-style="normal" font-size="9" dy="1.8">6</tspan></text>
</svg>
</body></html>
